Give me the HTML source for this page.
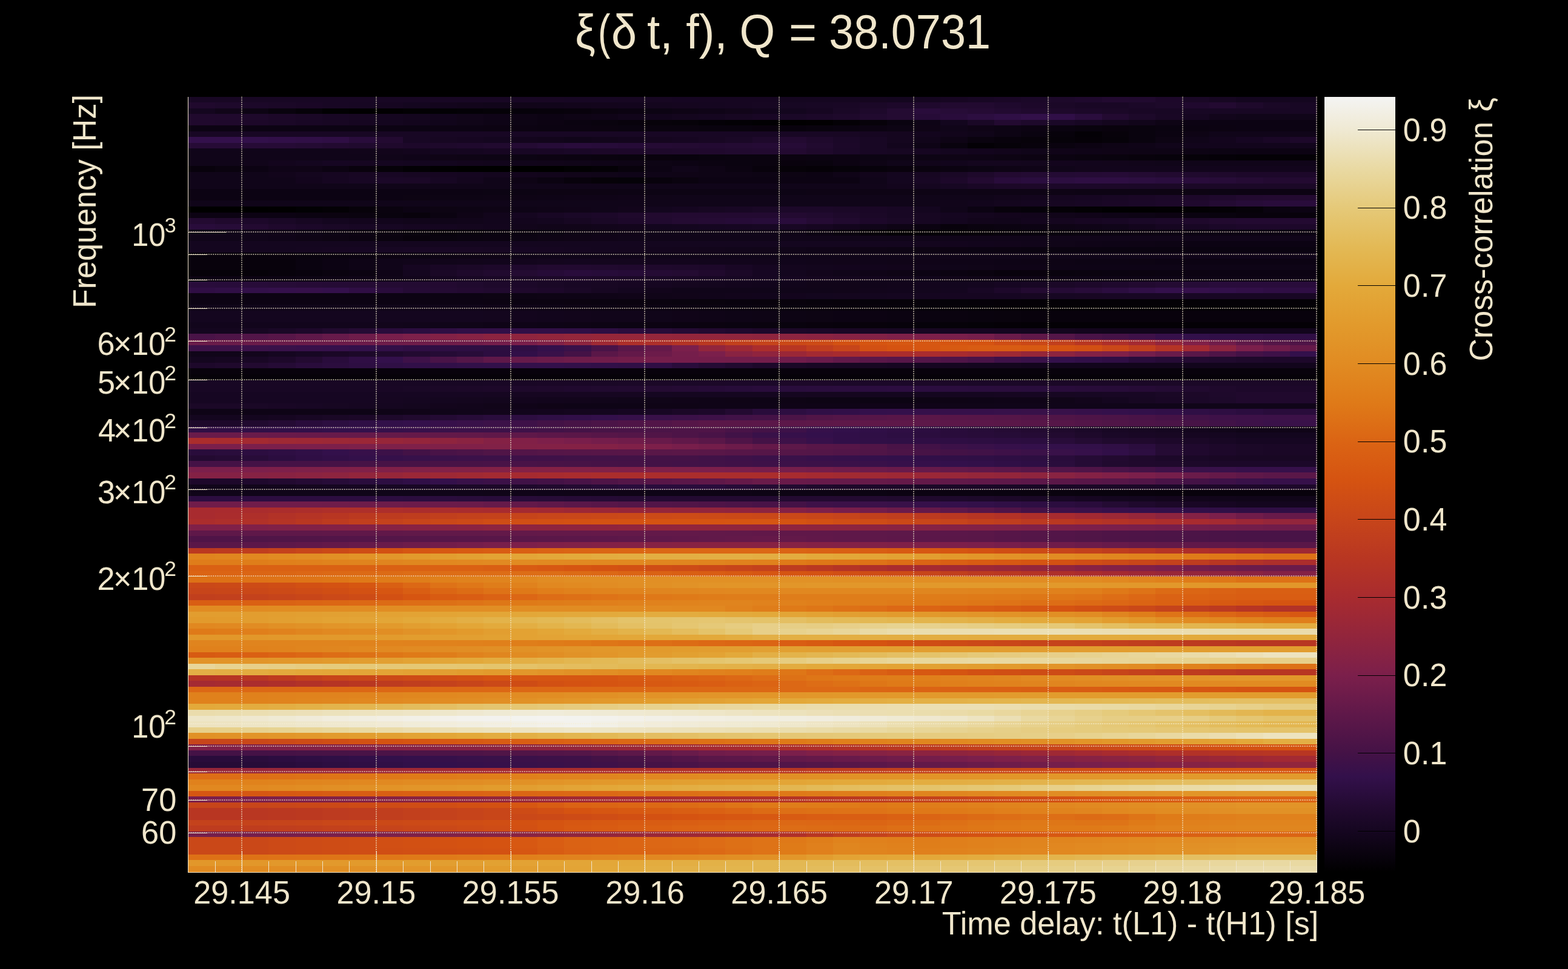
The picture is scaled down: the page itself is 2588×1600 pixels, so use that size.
<!DOCTYPE html>
<html><head><meta charset="utf-8"><title>xi</title>
<style>
html,body{margin:0;padding:0;background:#000}
body{width:2588px;height:1600px;position:relative;overflow:hidden;font-family:"Liberation Sans",sans-serif}
#hm{position:absolute;left:310px;top:160px;width:1864px;height:1280px}
#hm i{display:block;width:100%}
#cb{position:absolute;left:2186px;top:160px;width:117px;height:1280px}
svg{position:absolute;left:0;top:0;will-change:transform}
text{font-family:"Liberation Sans",sans-serif;fill:#f0e6cb}
.s{font-family:"Liberation Serif",serif}
</style></head><body>
<div id="hm"><i style="height:9px;background:linear-gradient(90deg,#180724 0 577px,#180723 0 621px,#170723 0 710px,#170722 0 799px,#160622 0 843px,#160621 0 976px,#150620 0 1109px,#15061f 0 1154px,#14061f 0 1198px,#150620 0 1242px,#170622 0 1287px,#180724 0 1331px,#1a0726 0 1375px,#1b0828 0 1420px,#1d092a 0 1464px,#1f092d 0 1509px,#220a30 0 1553px,#210a2f 0 1597px,#1d082a 0 1642px,#1a0826 0 1686px,#170722 0 1730px,#14061f 0 1864px)"></i><i style="height:10px;background:linear-gradient(90deg,#20092d 0 45px,#1e092b 0 89px,#1c0829 0 133px,#1b0827 0 178px,#1a0726 0 222px,#180724 0 266px,#170723 0 311px,#160621 0 355px,#14061f 0 400px,#13051d 0 444px,#12051b 0 488px,#11051a 0 533px,#110519 0 577px,#11051a 0 621px,#12051b 0 666px,#13051c 0 710px,#13051d 0 754px,#14061e 0 799px,#15061f 0 843px,#150620 0 887px,#160621 0 932px,#170722 0 976px,#170723 0 1021px,#180724 0 1065px,#190725 0 1109px,#1b0827 0 1154px,#1d082a 0 1198px,#1f092d 0 1242px,#220a30 0 1331px,#1f092d 0 1375px,#1d082a 0 1420px,#1b0827 0 1464px,#190725 0 1553px,#1b0828 0 1597px,#1d092a 0 1642px,#20092e 0 1686px,#230a31 0 1730px,#1e092b 0 1775px,#1a0826 0 1819px,#180724 0 1864px)"></i><i style="height:9px;background:linear-gradient(90deg,#14061f 0 45px,#110519 0 89px,#0d0414 0 133px,#09030e 0 178px,#060209 0 222px,#020103 0 266px,#010001 0 311px,#020002 0 355px,#030104 0 400px,#030105 0 444px,#040107 0 488px,#050208 0 533px,#06020a 0 577px,#07020b 0 621px,#08020c 0 666px,#0a030f 0 710px,#0b0311 0 754px,#0c0413 0 799px,#0e0415 0 843px,#0f0417 0 887px,#110519 0 932px,#12051c 0 976px,#13061e 0 1021px,#160621 0 1065px,#1a0826 0 1109px,#1e092b 0 1154px,#240b32 0 1198px,#290c3b 0 1242px,#270c37 0 1287px,#250b34 0 1331px,#220a31 0 1375px,#20092e 0 1420px,#1e092b 0 1464px,#1c0829 0 1509px,#1b0827 0 1553px,#190725 0 1597px,#180724 0 1864px)"></i><i style="height:10px;background:linear-gradient(90deg,#20092d 0 89px,#1e092b 0 133px,#1c0828 0 178px,#1a0826 0 222px,#180724 0 266px,#170722 0 311px,#150620 0 355px,#14061e 0 400px,#12051c 0 444px,#110519 0 488px,#0f0417 0 533px,#0e0415 0 577px,#0c0313 0 621px,#0e0415 0 666px,#0f0417 0 710px,#11051a 0 754px,#12051c 0 799px,#14061e 0 843px,#150620 0 887px,#170722 0 932px,#190725 0 976px,#1a0827 0 1021px,#1c0829 0 1065px,#1e092b 0 1109px,#210a2f 0 1154px,#240b32 0 1198px,#260b37 0 1242px,#290c3b 0 1287px,#2c0e40 0 1331px,#2f0f45 0 1375px,#321049 0 1420px,#300f47 0 1464px,#2a0d3d 0 1509px,#230a31 0 1553px,#1d092a 0 1597px,#190725 0 1642px,#160621 0 1686px,#12051b 0 1730px,#100519 0 1864px)"></i><i style="height:9px;background:linear-gradient(90deg,#20092d 0 45px,#1f092c 0 89px,#1d0829 0 133px,#1b0827 0 178px,#190725 0 222px,#180723 0 266px,#160621 0 311px,#14061f 0 355px,#13051d 0 400px,#11051b 0 444px,#100518 0 488px,#0e0416 0 533px,#0d0414 0 577px,#0c0312 0 621px,#0a0310 0 666px,#09030e 0 710px,#08020c 0 754px,#07020a 0 799px,#060209 0 843px,#040107 0 887px,#030105 0 932px,#020103 0 976px,#010001 0 1021px,#020002 0 1065px,#040106 0 1109px,#07020a 0 1154px,#0a0310 0 1198px,#0e0416 0 1242px,#13061e 0 1287px,#1a0826 0 1331px,#230a31 0 1375px,#1e092b 0 1420px,#1a0827 0 1464px,#170723 0 1509px,#14061e 0 1553px,#11051a 0 1597px,#0e0415 0 1642px,#0c0313 0 1864px)"></i><i style="height:10px;background:linear-gradient(90deg,#0c0313 0 488px,#0c0312 0 577px,#0b0311 0 666px,#0b0310 0 710px,#0a0310 0 754px,#0a030f 0 843px,#09030e 0 932px,#09020d 0 976px,#08020d 0 1021px,#09030e 0 1065px,#0a0310 0 1109px,#0c0312 0 1154px,#0d0414 0 1198px,#0f0416 0 1242px,#100519 0 1287px,#0f0416 0 1331px,#0d0414 0 1375px,#0c0312 0 1420px,#0a0310 0 1464px,#09030e 0 1509px,#09020d 0 1553px,#09030e 0 1597px,#0a0310 0 1642px,#0b0311 0 1686px,#0c0312 0 1730px,#0c0313 0 1864px)"></i><i style="height:9px;background:linear-gradient(90deg,#180724 0 1065px,#180723 0 1109px,#160621 0 1154px,#15061f 0 1198px,#13051d 0 1242px,#12051b 0 1287px,#100519 0 1331px,#0d0414 0 1375px,#0a0310 0 1420px,#07020b 0 1464px,#040106 0 1509px,#07020a 0 1553px,#09030e 0 1597px,#0b0311 0 1642px,#0e0415 0 1686px,#100519 0 1864px)"></i><i style="height:10px;background:linear-gradient(90deg,#33104b 0 89px,#32104a 0 133px,#310f48 0 178px,#300f46 0 222px,#2f0e44 0 266px,#290c3b 0 311px,#230a31 0 355px,#180724 0 400px,#170722 0 444px,#160621 0 488px,#14061f 0 533px,#13051d 0 577px,#12051b 0 621px,#100519 0 666px,#12051b 0 710px,#13051d 0 754px,#15061f 0 799px,#160621 0 843px,#180723 0 887px,#1a0826 0 932px,#1e092b 0 976px,#230a31 0 1021px,#1f092c 0 1065px,#1b0828 0 1109px,#180724 0 1154px,#15061f 0 1198px,#11051a 0 1242px,#0e0415 0 1287px,#0a030f 0 1331px,#08020c 0 1375px,#07020a 0 1420px,#060209 0 1464px,#050107 0 1509px,#060209 0 1553px,#09030e 0 1597px,#0d0413 0 1642px,#100519 0 1686px,#13051d 0 1730px,#160622 0 1775px,#1a0726 0 1819px,#1d082a 0 1864px)"></i><i style="height:9px;background:linear-gradient(90deg,#260b36 0 178px,#240b33 0 222px,#220a30 0 266px,#200a2e 0 311px,#1f092c 0 355px,#1d082a 0 400px,#1e092b 0 444px,#1f092d 0 488px,#210a2f 0 533px,#240b33 0 577px,#260c37 0 621px,#290c3b 0 666px,#270c39 0 710px,#260b37 0 754px,#250b34 0 799px,#240b32 0 843px,#230a32 0 887px,#240b33 0 932px,#250b35 0 976px,#260b36 0 1021px,#210a2f 0 1065px,#1c0829 0 1109px,#180724 0 1154px,#13051d 0 1198px,#0e0416 0 1242px,#09030e 0 1287px,#040106 0 1331px,#060209 0 1375px,#08020c 0 1420px,#0a030f 0 1464px,#0c0312 0 1509px,#0e0415 0 1553px,#0f0417 0 1597px,#11051a 0 1642px,#12051c 0 1864px)"></i><i style="height:10px;background:linear-gradient(90deg,#100519 0 266px,#11051a 0 311px,#12051b 0 355px,#13051d 0 400px,#14061f 0 444px,#150620 0 488px,#170622 0 533px,#180724 0 577px,#190725 0 621px,#1a0827 0 666px,#1c0828 0 710px,#1d082a 0 754px,#1e092b 0 799px,#1f092c 0 843px,#20092d 0 887px,#210a2f 0 932px,#220a30 0 976px,#230a31 0 1021px,#1f092c 0 1065px,#1b0828 0 1109px,#180724 0 1154px,#170722 0 1198px,#160621 0 1242px,#14061f 0 1287px,#13051d 0 1331px,#12051b 0 1375px,#100519 0 1420px,#100418 0 1464px,#0f0417 0 1509px,#0f0416 0 1553px,#0e0415 0 1642px,#0d0414 0 1686px,#0c0413 0 1730px,#0c0313 0 1864px)"></i><i style="height:10px;background:linear-gradient(90deg,#100519 0 355px,#0f0418 0 400px,#0f0416 0 444px,#0e0415 0 488px,#0d0414 0 533px,#0c0413 0 577px,#0c0312 0 621px,#0b0311 0 666px,#0a030f 0 710px,#09030e 0 754px,#09020d 0 799px,#08020d 0 843px,#09030e 0 887px,#0a030f 0 976px,#0b0310 0 1021px,#0b0311 0 1065px,#0c0312 0 1109px,#0c0413 0 1154px,#0d0414 0 1242px,#0e0415 0 1331px,#0d0413 0 1375px,#0c0312 0 1420px,#0b0311 0 1464px,#0a030f 0 1509px,#09030e 0 1553px,#08020c 0 1597px,#07020b 0 1642px,#060209 0 1686px,#050108 0 1730px,#040106 0 1864px)"></i><i style="height:9px;background:linear-gradient(90deg,#100519 0 89px,#11051a 0 133px,#13051d 0 178px,#14061f 0 222px,#160622 0 266px,#160621 0 311px,#150620 0 355px,#14061f 0 400px,#13061e 0 444px,#13051c 0 488px,#12051b 0 533px,#11051a 0 577px,#110519 0 621px,#100518 0 666px,#0f0417 0 710px,#0e0415 0 754px,#0d0414 0 799px,#0c0313 0 843px,#0b0311 0 887px,#0a0310 0 932px,#0a030f 0 976px,#09020d 0 1021px,#09030e 0 1065px,#0c0312 0 1109px,#0e0415 0 1154px,#100519 0 1198px,#11051a 0 1242px,#12051c 0 1287px,#14061e 0 1375px,#13061d 0 1420px,#13051d 0 1464px,#12051c 0 1509px,#12051b 0 1553px,#11051a 0 1597px,#100519 0 1864px)"></i><i style="height:10px;background:linear-gradient(90deg,#08020c 0 45px,#0a030f 0 89px,#0c0313 0 133px,#0f0417 0 178px,#0f0416 0 222px,#0c0312 0 266px,#09020d 0 311px,#060209 0 355px,#030105 0 400px,#010002 0 444px,#000000 0 621px,#020103 0 666px,#040106 0 710px,#08020c 0 754px,#0c0313 0 799px,#100519 0 843px,#0e0415 0 887px,#0b0311 0 932px,#08020c 0 976px,#060208 0 1021px,#050107 0 1065px,#060209 0 1109px,#07020b 0 1154px,#09020d 0 1198px,#0a030f 0 1242px,#0b0311 0 1287px,#0c0413 0 1331px,#0e0415 0 1375px,#0f0417 0 1420px,#100519 0 1464px,#12051b 0 1509px,#12051c 0 1864px)"></i><i style="height:9px;background:linear-gradient(90deg,#100519 0 133px,#12051b 0 178px,#14061e 0 222px,#160621 0 266px,#180723 0 311px,#180724 0 355px,#170722 0 400px,#160621 0 444px,#150620 0 488px,#14061e 0 533px,#13051c 0 577px,#12051b 0 621px,#110519 0 666px,#100518 0 710px,#0f0418 0 754px,#0f0417 0 799px,#0f0416 0 843px,#0e0415 0 932px,#0d0414 0 976px,#0d0413 0 1021px,#0c0313 0 1065px,#0f0417 0 1109px,#12051b 0 1154px,#14061f 0 1198px,#170722 0 1242px,#1a0826 0 1287px,#1e092b 0 1331px,#230a31 0 1375px,#240b33 0 1420px,#240b34 0 1464px,#250b35 0 1509px,#260b36 0 1553px,#240b33 0 1597px,#220a30 0 1642px,#200a2e 0 1686px,#1f092c 0 1730px,#1d082a 0 1864px)"></i><i style="height:10px;background:linear-gradient(90deg,#100519 0 178px,#13051d 0 222px,#160621 0 266px,#180724 0 311px,#1b0828 0 355px,#1b0827 0 400px,#170723 0 444px,#14061e 0 488px,#100519 0 533px,#0e0415 0 577px,#0b0311 0 621px,#08020c 0 666px,#060208 0 710px,#050208 0 754px,#08020c 0 799px,#0a030f 0 843px,#0c0313 0 1109px,#100519 0 1154px,#14061f 0 1198px,#180724 0 1242px,#1d082a 0 1287px,#230a31 0 1331px,#290c3b 0 1375px,#2a0d3e 0 1420px,#2c0e40 0 1464px,#2e0e43 0 1553px,#2c0e40 0 1597px,#2a0d3e 0 1642px,#290c3b 0 1686px,#270c38 0 1730px,#250b34 0 1775px,#230a31 0 1864px)"></i><i style="height:9px;background:linear-gradient(90deg,#100519 0 1109px,#11051a 0 1154px,#13051d 0 1198px,#150620 0 1242px,#170723 0 1287px,#1a0726 0 1331px,#1c0828 0 1375px,#1d0829 0 1420px,#1c0829 0 1509px,#1c0828 0 1553px,#1b0828 0 1597px,#1b0827 0 1864px)"></i><i style="height:10px;background:linear-gradient(90deg,#0c0313 0 488px,#0c0413 0 577px,#0d0413 0 710px,#0d0414 0 976px,#0d0415 0 1021px,#0e0415 0 1242px,#0e0416 0 1287px,#0e0415 0 1464px,#0d0414 0 1597px,#0d0413 0 1686px,#0c0413 0 1730px,#0c0313 0 1864px)"></i><i style="height:9px;background:linear-gradient(90deg,#0c0313 0 355px,#0d0413 0 400px,#0d0414 0 488px,#0e0415 0 577px,#0e0416 0 621px,#0f0417 0 710px,#100418 0 754px,#100518 0 799px,#100519 0 1331px,#12051b 0 1375px,#13051d 0 1420px,#150620 0 1464px,#160622 0 1509px,#180724 0 1553px,#1a0726 0 1597px,#1b0828 0 1642px,#1d082a 0 1686px,#1f092d 0 1730px,#220a30 0 1775px,#230a31 0 1864px)"></i><i style="height:10px;background:linear-gradient(90deg,#100519 0 1242px,#11051a 0 1287px,#12051c 0 1331px,#14061e 0 1375px,#150620 0 1420px,#170722 0 1464px,#180724 0 1509px,#1a0726 0 1553px,#1b0828 0 1597px,#1d082a 0 1642px,#20092e 0 1686px,#240b33 0 1730px,#270c38 0 1775px,#290c3b 0 1864px)"></i><i style="height:10px;background:linear-gradient(90deg,#000000 0 133px,#010001 0 178px,#020104 0 222px,#040106 0 266px,#07020a 0 311px,#0a030f 0 355px,#0c0313 0 400px,#0d0413 0 444px,#0d0414 0 488px,#0e0415 0 533px,#0e0416 0 577px,#0f0417 0 621px,#100418 0 666px,#100519 0 710px,#12051b 0 754px,#13061e 0 799px,#150620 0 843px,#170722 0 887px,#180724 0 932px,#1a0826 0 976px,#1c0829 0 1065px,#1b0827 0 1109px,#1a0726 0 1154px,#180724 0 1198px,#14061f 0 1242px,#100519 0 1287px,#0c0313 0 1331px,#08020c 0 1375px,#06020a 0 1420px,#050107 0 1464px,#030104 0 1509px,#010002 0 1553px,#010001 0 1597px,#020003 0 1642px,#030104 0 1686px,#040106 0 1730px,#060209 0 1775px,#0a0310 0 1819px,#0c0313 0 1864px)"></i><i style="height:9px;background:linear-gradient(90deg,#0c0313 0 178px,#0b0311 0 222px,#0b0310 0 266px,#0a030f 0 311px,#09030e 0 355px,#08020c 0 400px,#0b0311 0 444px,#0f0416 0 488px,#12051b 0 533px,#150620 0 577px,#180724 0 621px,#1a0827 0 666px,#1c0829 0 710px,#1f092c 0 754px,#220a2f 0 799px,#230a31 0 1021px,#210a2f 0 1065px,#1e092b 0 1109px,#1b0827 0 1154px,#180724 0 1198px,#170722 0 1242px,#150620 0 1287px,#14061e 0 1331px,#13051c 0 1375px,#12051b 0 1420px,#110519 0 1464px,#100418 0 1509px,#0e0416 0 1553px,#0d0414 0 1597px,#0c0312 0 1642px,#0a0310 0 1686px,#09030e 0 1730px,#08020c 0 1864px)"></i><i style="height:10px;background:linear-gradient(90deg,#230a31 0 45px,#20092d 0 89px,#1d082a 0 133px,#1a0826 0 178px,#170722 0 222px,#14061f 0 266px,#13051d 0 311px,#12051c 0 355px,#11051a 0 400px,#100519 0 444px,#11051a 0 488px,#12051c 0 533px,#13051d 0 577px,#14061f 0 621px,#170722 0 666px,#1a0826 0 710px,#1d082a 0 754px,#210a2f 0 799px,#240b32 0 843px,#250b34 0 887px,#260b37 0 932px,#270c39 0 976px,#290c3b 0 1021px,#250b34 0 1065px,#210a2f 0 1109px,#1d082a 0 1154px,#1a0826 0 1198px,#170722 0 1242px,#14061f 0 1287px,#12051b 0 1331px,#11051a 0 1375px,#13051d 0 1420px,#15061f 0 1464px,#170622 0 1509px,#180724 0 1553px,#1a0827 0 1597px,#1c0829 0 1642px,#1f092c 0 1686px,#220a2f 0 1730px,#230a31 0 1864px)"></i><i style="height:9px;background:linear-gradient(90deg,#290c3b 0 45px,#270c38 0 89px,#230a31 0 133px,#1f092c 0 178px,#1c0829 0 222px,#1a0826 0 266px,#180724 0 311px,#170723 0 355px,#160621 0 400px,#150620 0 444px,#14061e 0 488px,#13051d 0 533px,#12051b 0 577px,#110519 0 666px,#12051b 0 710px,#13051c 0 754px,#13061e 0 799px,#14061f 0 843px,#150621 0 887px,#160622 0 932px,#170723 0 976px,#180724 0 1021px,#160621 0 1065px,#13051d 0 1109px,#100519 0 1154px,#0e0415 0 1198px,#0b0311 0 1242px,#08020c 0 1287px,#0a030f 0 1331px,#0b0311 0 1375px,#0c0313 0 1420px,#0e0415 0 1464px,#0f0417 0 1509px,#100519 0 1553px,#13051d 0 1597px,#160621 0 1642px,#180724 0 1686px,#1b0828 0 1730px,#1d082a 0 1864px)"></i><i style="height:10px;background:linear-gradient(90deg,#100519 0 133px,#100418 0 178px,#0e0416 0 222px,#0d0414 0 266px,#0c0312 0 311px,#0b0310 0 355px,#09030e 0 400px,#08020c 0 444px,#09030e 0 488px,#0a0310 0 533px,#0b0311 0 577px,#0c0413 0 621px,#0e0415 0 666px,#0f0416 0 710px,#100418 0 754px,#100519 0 976px,#0f0417 0 1021px,#0c0313 0 1065px,#0a030f 0 1109px,#07020a 0 1154px,#040106 0 1198px,#050108 0 1242px,#060209 0 1287px,#07020a 0 1331px,#08020c 0 1375px,#08020d 0 1420px,#09030e 0 1464px,#0a030f 0 1509px,#0b0311 0 1553px,#0c0312 0 1597px,#0c0313 0 1864px)"></i><i style="height:9px;background:linear-gradient(90deg,#100519 0 133px,#0f0418 0 178px,#0e0415 0 222px,#0d0413 0 266px,#0b0311 0 311px,#0a030f 0 355px,#08020c 0 400px,#09030e 0 444px,#0a0310 0 488px,#0b0311 0 533px,#0c0413 0 577px,#0e0415 0 621px,#0f0416 0 666px,#100418 0 710px,#100519 0 1864px)"></i><i style="height:10px;background:linear-gradient(90deg,#14061f 0 1198px,#14061e 0 1242px,#13051d 0 1287px,#12051c 0 1331px,#12051b 0 1375px,#11051a 0 1420px,#100518 0 1464px,#0f0417 0 1509px,#0e0416 0 1553px,#0e0415 0 1597px,#0d0414 0 1642px,#0c0313 0 1864px)"></i><i style="height:9px;background:linear-gradient(90deg,#14061f 0 178px,#150620 0 222px,#160621 0 266px,#160622 0 311px,#170723 0 355px,#180724 0 444px,#180723 0 488px,#170722 0 533px,#160622 0 577px,#160621 0 621px,#150620 0 666px,#14061f 0 710px,#14061e 0 754px,#13051d 0 799px,#13051c 0 843px,#12051b 0 887px,#11051a 0 932px,#110519 0 976px,#100518 0 1021px,#0f0417 0 1065px,#0f0416 0 1109px,#0e0415 0 1154px,#0d0414 0 1198px,#0d0413 0 1242px,#0c0312 0 1287px,#0b0312 0 1331px,#0b0311 0 1375px,#0a0310 0 1864px)"></i><i style="height:10px;background:linear-gradient(90deg,#08020c 0 133px,#09020d 0 178px,#09030e 0 222px,#0a030f 0 266px,#0b0311 0 311px,#0c0312 0 355px,#0c0413 0 400px,#0d0414 0 444px,#0e0415 0 488px,#0f0416 0 533px,#0f0418 0 577px,#100519 0 1864px)"></i><i style="height:10px;background:linear-gradient(90deg,#08020c 0 178px,#0a0310 0 222px,#0c0313 0 266px,#0e0416 0 311px,#100519 0 355px,#11051a 0 444px,#12051b 0 488px,#12051c 0 533px,#13051d 0 577px,#14061e 0 621px,#14061f 0 666px,#14061e 0 754px,#13051d 0 843px,#12051c 0 932px,#12051b 0 976px,#11051b 0 1021px,#11051a 0 1065px,#110519 0 1109px,#100519 0 1154px,#100518 0 1198px,#100418 0 1242px,#0f0417 0 1331px,#0e0416 0 1375px,#0e0415 0 1464px,#0d0414 0 1553px,#0d0413 0 1597px,#0c0313 0 1864px)"></i><i style="height:9px;background:linear-gradient(90deg,#08020c 0 178px,#0a0310 0 222px,#0c0313 0 266px,#0e0416 0 311px,#100519 0 355px,#160621 0 400px,#190725 0 444px,#1b0827 0 488px,#1d082a 0 533px,#1f092d 0 577px,#220a30 0 666px,#210a2f 0 710px,#20092e 0 754px,#1f092c 0 799px,#1e092b 0 843px,#1d082a 0 887px,#190725 0 932px,#160621 0 976px,#14061e 0 1021px,#13061d 0 1065px,#13051d 0 1109px,#12051c 0 1154px,#12051b 0 1198px,#11051a 0 1242px,#100519 0 1287px,#100518 0 1331px,#0f0417 0 1420px,#0e0416 0 1864px)"></i><i style="height:10px;background:linear-gradient(90deg,#060209 0 133px,#07020b 0 178px,#08020d 0 222px,#0a030f 0 266px,#0b0311 0 311px,#0f0417 0 355px,#14061f 0 400px,#1a0826 0 444px,#1e092b 0 488px,#210a2f 0 533px,#240b32 0 577px,#260b37 0 621px,#290c3b 0 666px,#270c39 0 710px,#260b37 0 754px,#250b34 0 799px,#240b32 0 843px,#20092d 0 887px,#1b0827 0 932px,#160622 0 976px,#13061e 0 1021px,#12051b 0 1065px,#100519 0 1109px,#0f0417 0 1154px,#0e0415 0 1198px,#0c0313 0 1242px,#0b0311 0 1287px,#0a030f 0 1331px,#08020c 0 1375px,#09020d 0 1420px,#09030e 0 1464px,#0a030f 0 1509px,#0a0310 0 1553px,#0b0310 0 1597px,#0b0311 0 1642px,#0c0312 0 1686px,#0c0313 0 1864px)"></i><i style="height:9px;background:linear-gradient(90deg,#0c0313 0 178px,#0d0414 0 222px,#0e0415 0 266px,#0f0417 0 311px,#100518 0 355px,#12051b 0 400px,#150620 0 444px,#180724 0 488px,#1a0726 0 533px,#1b0827 0 577px,#1c0828 0 621px,#1d082a 0 666px,#1c0828 0 710px,#1b0827 0 754px,#1a0826 0 799px,#190725 0 843px,#180724 0 887px,#170723 0 932px,#160622 0 976px,#150621 0 1021px,#15061f 0 1065px,#14061e 0 1109px,#13051d 0 1154px,#12051c 0 1198px,#11051b 0 1242px,#110519 0 1287px,#100518 0 1331px,#0f0417 0 1375px,#0e0416 0 1864px)"></i><i style="height:10px;background:linear-gradient(90deg,#290c3b 0 45px,#280c3a 0 89px,#280c39 0 133px,#270c37 0 178px,#260b36 0 222px,#250b35 0 266px,#250b34 0 311px,#240b33 0 355px,#230b32 0 400px,#230a31 0 444px,#200a2e 0 488px,#1e092b 0 533px,#1c0829 0 577px,#1a0826 0 621px,#180724 0 666px,#180723 0 710px,#170622 0 754px,#160621 0 799px,#15061f 0 843px,#14061e 0 887px,#13051d 0 932px,#12051c 0 976px,#11051b 0 1021px,#110519 0 1109px,#11051a 0 1154px,#12051b 0 1198px,#13051d 0 1242px,#13061e 0 1287px,#14061f 0 1331px,#160622 0 1375px,#180724 0 1420px,#1b0827 0 1464px,#1d082a 0 1509px,#1f092d 0 1553px,#220a30 0 1597px,#240b33 0 1642px,#260c37 0 1686px,#290c3b 0 1864px)"></i><i style="height:9px;background:linear-gradient(90deg,#2f0e44 0 45px,#300f46 0 89px,#321049 0 133px,#34104b 0 178px,#35104a 0 222px,#33104b 0 266px,#2f0e44 0 311px,#290c3b 0 355px,#250b35 0 400px,#240b33 0 444px,#230a31 0 488px,#210a2f 0 533px,#1f092c 0 577px,#1d082a 0 621px,#1a0826 0 666px,#170722 0 710px,#14061f 0 754px,#12051b 0 799px,#100519 0 1065px,#110519 0 1109px,#12051b 0 1154px,#12051c 0 1198px,#13061d 0 1242px,#14061f 0 1287px,#180724 0 1331px,#1d082a 0 1375px,#230a31 0 1420px,#250b35 0 1464px,#280c39 0 1509px,#2b0d3f 0 1553px,#300f46 0 1597px,#33104b 0 1642px,#35104b 0 1686px,#32104a 0 1730px,#310f47 0 1775px,#2f0e44 0 1864px)"></i><i style="height:10px;background:linear-gradient(90deg,#0c0313 0 488px,#0d0413 0 533px,#0d0414 0 577px,#0e0415 0 621px,#0e0416 0 666px,#0f0417 0 710px,#100418 0 754px,#100518 0 799px,#110519 0 843px,#11051a 0 887px,#12051b 0 932px,#12051c 0 976px,#13051d 0 1021px,#13061e 0 1065px,#14061e 0 1109px,#14061f 0 1154px,#150620 0 1242px,#160621 0 1331px,#160622 0 1375px,#170722 0 1420px,#170723 0 1464px,#180723 0 1509px,#180724 0 1864px)"></i><i style="height:9px;background:linear-gradient(90deg,#0c0313 0 488px,#0c0312 0 533px,#0b0311 0 621px,#0b0310 0 666px,#0a0310 0 710px,#0a030f 0 799px,#09030e 0 843px,#09030d 0 887px,#08020d 0 932px,#08020c 0 1021px,#07020b 0 1065px,#07020a 0 1109px,#06020a 0 1154px,#060209 0 1242px,#050208 0 1287px,#050108 0 1331px,#050107 0 1375px,#040106 0 1864px)"></i><i style="height:10px;background:linear-gradient(90deg,#100519 0 488px,#100418 0 533px,#0f0417 0 577px,#0e0416 0 621px,#0e0415 0 666px,#0d0414 0 710px,#0d0413 0 754px,#0c0313 0 799px,#0c0312 0 843px,#0b0311 0 887px,#0a0310 0 932px,#0a030f 0 976px,#09030e 0 1021px,#09030d 0 1065px,#08020c 0 1154px,#07020b 0 1198px,#06020a 0 1242px,#060209 0 1287px,#050208 0 1331px,#050107 0 1375px,#040106 0 1864px)"></i><i style="height:9px;background:linear-gradient(90deg,#14061f 0 488px,#14061e 0 533px,#13051d 0 577px,#12051c 0 621px,#12051b 0 666px,#11051a 0 754px,#100519 0 799px,#100418 0 843px,#0f0417 0 887px,#0e0416 0 932px,#0e0415 0 976px,#0d0414 0 1021px,#0d0413 0 1065px,#0c0313 0 1109px,#0c0312 0 1154px,#0b0311 0 1198px,#0a0310 0 1242px,#0a030f 0 1287px,#09030e 0 1331px,#09030d 0 1375px,#08020c 0 1864px)"></i><i style="height:10px;background:linear-gradient(90deg,#14061f 0 488px,#14061e 0 533px,#13051d 0 577px,#12051c 0 621px,#12051b 0 666px,#11051a 0 754px,#100519 0 799px,#100418 0 843px,#0f0417 0 887px,#0e0416 0 932px,#0e0415 0 976px,#0d0414 0 1021px,#0d0413 0 1065px,#0c0313 0 1109px,#0c0312 0 1154px,#0b0311 0 1198px,#0a0310 0 1242px,#0a030f 0 1287px,#09030e 0 1331px,#09030d 0 1375px,#08020c 0 1864px)"></i><i style="height:10px;background:linear-gradient(90deg,#12051c 0 311px,#12051b 0 355px,#11051a 0 400px,#100519 0 444px,#100518 0 488px,#0f0417 0 577px,#0e0416 0 621px,#0e0415 0 666px,#0d0414 0 710px,#0c0413 0 754px,#0c0312 0 799px,#0b0311 0 843px,#0b0310 0 887px,#0a0310 0 932px,#0a030f 0 976px,#09030e 0 1021px,#09020d 0 1065px,#08020c 0 1109px,#08020b 0 1154px,#07020b 0 1198px,#06020a 0 1242px,#060209 0 1287px,#050208 0 1331px,#050107 0 1375px,#040106 0 1864px)"></i><i style="height:9px;background:linear-gradient(90deg,#14061f 0 89px,#170722 0 133px,#1a0826 0 178px,#1d082a 0 222px,#210a2f 0 266px,#250b34 0 311px,#290c3b 0 355px,#2b0d3f 0 400px,#2e0e43 0 444px,#300f46 0 488px,#310f47 0 533px,#300f46 0 621px,#2f0f45 0 666px,#2d0e42 0 710px,#2a0d3d 0 754px,#270c38 0 799px,#240b34 0 843px,#220a30 0 887px,#1f092d 0 932px,#1d082a 0 976px,#1c0828 0 1021px,#1a0827 0 1065px,#190725 0 1109px,#180724 0 1154px,#170723 0 1198px,#170722 0 1242px,#160621 0 1331px,#150620 0 1375px,#14061f 0 1420px,#14061e 0 1464px,#13051d 0 1509px,#12051c 0 1864px)"></i><i style="height:10px;background:linear-gradient(90deg,#491347 0 45px,#4d1447 0 89px,#521548 0 133px,#571648 0 178px,#5e1849 0 222px,#661a4a 0 266px,#6e1c4a 0 311px,#771e4b 0 355px,#7d204a 0 400px,#822146 0 444px,#862244 0 488px,#8b2340 0 533px,#8f243e 0 577px,#91253c 0 621px,#94263b 0 666px,#962639 0 710px,#95263a 0 754px,#94263b 0 799px,#93253b 0 843px,#92253c 0 887px,#90253d 0 932px,#8e243e 0 976px,#8c2440 0 1021px,#8a2341 0 1065px,#862244 0 1109px,#822146 0 1154px,#7e2049 0 1198px,#7c1f4a 0 1242px,#791f4b 0 1287px,#751e4b 0 1331px,#6a1b4a 0 1375px,#5f1849 0 1420px,#541648 0 1464px,#491347 0 1509px,#441246 0 1553px,#3e1148 0 1597px,#36104a 0 1642px,#32104a 0 1686px,#300f47 0 1730px,#300f46 0 1775px,#2f0e44 0 1864px)"></i><i style="height:9px;background:linear-gradient(90deg,#6a1b4a 0 222px,#6b1b4a 0 266px,#6c1b4a 0 311px,#6d1c4a 0 355px,#6e1c4a 0 400px,#6f1c4a 0 444px,#701c4a 0 488px,#741d4b 0 533px,#791e4b 0 577px,#812147 0 621px,#8d243f 0 666px,#9f2934 0 710px,#ae2f2a 0 799px,#b43325 0 843px,#ba3821 0 887px,#c2401c 0 932px,#c6441b 0 976px,#cb4917 0 1021px,#cd4b16 0 1065px,#d35112 0 1109px,#d65511 0 1154px,#d75812 0 1198px,#d65712 0 1242px,#d65511 0 1287px,#d55311 0 1331px,#cf4d15 0 1375px,#ca4818 0 1420px,#c13f1d 0 1464px,#b83622 0 1509px,#ae2f2a 0 1553px,#a42a32 0 1597px,#92253c 0 1642px,#802048 0 1686px,#701c4a 0 1730px,#5f1849 0 1775px,#541648 0 1819px,#4f1447 0 1864px)"></i><i style="height:10px;background:linear-gradient(90deg,#3c1148 0 89px,#3a1149 0 133px,#381149 0 178px,#37104a 0 222px,#35104b 0 266px,#32104a 0 311px,#310f47 0 355px,#2f0e44 0 400px,#2e0e43 0 444px,#2d0e42 0 488px,#2c0e40 0 533px,#2f0e44 0 577px,#33104b 0 621px,#391149 0 666px,#491347 0 710px,#5a1748 0 754px,#651949 0 799px,#7b1f4b 0 843px,#92253c 0 887px,#9d2835 0 932px,#ab2d2c 0 976px,#b83622 0 1021px,#c03e1e 0 1065px,#c7451a 0 1109px,#d25013 0 1154px,#d55311 0 1198px,#d65612 0 1242px,#d75a12 0 1287px,#d85c13 0 1375px,#d75a12 0 1420px,#d55311 0 1464px,#d25013 0 1509px,#ca4818 0 1553px,#c13f1d 0 1597px,#b53425 0 1642px,#a42a32 0 1686px,#8d243f 0 1730px,#7b1f4b 0 1775px,#701c4a 0 1819px,#651949 0 1864px)"></i><i style="height:9px;background:linear-gradient(90deg,#100519 0 89px,#12051c 0 133px,#150620 0 178px,#170723 0 222px,#1a0726 0 266px,#1c0829 0 311px,#1f092d 0 355px,#230a31 0 400px,#250b35 0 444px,#280c39 0 488px,#2c0d40 0 533px,#310f48 0 577px,#391149 0 621px,#441246 0 666px,#5a1748 0 710px,#631949 0 754px,#6c1b4a 0 799px,#751e4b 0 843px,#7b1f4b 0 887px,#892342 0 932px,#90243e 0 976px,#9b2737 0 1021px,#a42a32 0 1065px,#a82b2f 0 1109px,#aa2c2e 0 1154px,#ab2d2c 0 1198px,#aa2c2e 0 1242px,#a82b2f 0 1287px,#a42a32 0 1331px,#9f2934 0 1375px,#962639 0 1420px,#8d243f 0 1464px,#842145 0 1509px,#802048 0 1553px,#751e4b 0 1597px,#6a1b4a 0 1642px,#5a1748 0 1686px,#4f1447 0 1730px,#441246 0 1775px,#3e1148 0 1819px,#33104b 0 1864px)"></i><i style="height:10px;background:linear-gradient(90deg,#14061f 0 45px,#160621 0 89px,#190725 0 133px,#1d082a 0 178px,#230a31 0 222px,#290c3b 0 266px,#2f0e44 0 311px,#33104b 0 355px,#3e1148 0 400px,#491347 0 444px,#541648 0 488px,#5f1849 0 533px,#661a4a 0 577px,#6b1b4a 0 621px,#6e1c4a 0 666px,#701c4a 0 710px,#731d4a 0 754px,#751e4b 0 799px,#751d4b 0 843px,#741d4a 0 887px,#731d4a 0 976px,#701c4a 0 1021px,#6a1b4a 0 1065px,#621949 0 1109px,#5a1748 0 1154px,#571648 0 1198px,#541648 0 1242px,#4f1447 0 1287px,#491347 0 1331px,#3e1148 0 1375px,#391149 0 1420px,#33104b 0 1464px,#310f48 0 1509px,#2f0e44 0 1553px,#290c3b 0 1597px,#260b36 0 1642px,#230a31 0 1686px,#200a2e 0 1730px,#1e092b 0 1775px,#1d082a 0 1864px)"></i><i style="height:9px;background:linear-gradient(90deg,#1d082a 0 45px,#1f092c 0 89px,#220a30 0 133px,#250b35 0 178px,#290c3b 0 222px,#2b0d3e 0 266px,#2d0e42 0 311px,#2f0f45 0 355px,#310f48 0 444px,#321049 0 488px,#32104a 0 533px,#33104a 0 577px,#33104b 0 621px,#321049 0 666px,#310f48 0 710px,#300f46 0 754px,#2f0e44 0 799px,#290c3b 0 843px,#250b34 0 887px,#210a2f 0 932px,#1d082a 0 976px,#1a0826 0 1021px,#180724 0 1065px,#170723 0 1109px,#170722 0 1154px,#160621 0 1242px,#150620 0 1287px,#14061f 0 1331px,#14061e 0 1375px,#13051d 0 1420px,#12051c 0 1864px)"></i><i style="height:10px;background:linear-gradient(90deg,#08020c 0 1864px)"></i><i style="height:10px;background:linear-gradient(90deg,#060209 0 1864px)"></i><i style="height:9px;background:linear-gradient(90deg,#180724 0 488px,#190725 0 577px,#1a0726 0 666px,#1a0826 0 710px,#1b0827 0 799px,#1b0828 0 843px,#1c0828 0 887px,#1c0829 0 976px,#1d0829 0 1065px,#1c0829 0 1198px,#1c0828 0 1287px,#1b0828 0 1375px,#1b0827 0 1864px)"></i><i style="height:10px;background:linear-gradient(90deg,#180724 0 311px,#190725 0 355px,#1a0826 0 400px,#1b0827 0 444px,#1c0828 0 488px,#1d0829 0 533px,#1e092b 0 577px,#1f092c 0 621px,#20092e 0 666px,#210a2f 0 710px,#220a30 0 754px,#240b32 0 799px,#250b34 0 843px,#260b37 0 887px,#270c39 0 932px,#290c3b 0 976px,#290d3c 0 1021px,#2a0d3d 0 1065px,#2b0d3e 0 1109px,#2b0d3f 0 1154px,#2c0d40 0 1198px,#2b0d3f 0 1242px,#2b0d3e 0 1287px,#2a0d3d 0 1331px,#2a0d3c 0 1375px,#290d3c 0 1420px,#290c3b 0 1464px,#280c39 0 1509px,#270c38 0 1553px,#260b36 0 1597px,#240b33 0 1642px,#210a2f 0 1686px,#1f092c 0 1730px,#1d082a 0 1864px)"></i><i style="height:9px;background:linear-gradient(90deg,#160622 0 488px,#160621 0 754px,#150621 0 799px,#150620 0 1021px,#15061f 0 1109px,#14061f 0 1242px,#150620 0 1331px,#160621 0 1375px,#160622 0 1420px,#170722 0 1464px,#170723 0 1509px,#180724 0 1597px,#1a0826 0 1642px,#1c0828 0 1686px,#1e092b 0 1730px,#20092d 0 1864px)"></i><i style="height:10px;background:linear-gradient(90deg,#160622 0 311px,#160621 0 355px,#150620 0 400px,#14061f 0 444px,#14061e 0 488px,#13061d 0 533px,#13051d 0 577px,#12051c 0 621px,#12051b 0 666px,#11051a 0 710px,#100519 0 754px,#100518 0 799px,#100418 0 843px,#0f0417 0 887px,#0f0416 0 932px,#0e0416 0 976px,#0e0415 0 1021px,#0d0414 0 1109px,#0c0413 0 1198px,#0d0414 0 1242px,#0e0415 0 1287px,#0e0416 0 1331px,#0f0417 0 1420px,#100518 0 1464px,#12051b 0 1509px,#14061f 0 1553px,#170722 0 1597px,#190725 0 1642px,#1b0828 0 1686px,#1d092a 0 1730px,#20092d 0 1864px)"></i><i style="height:9px;background:linear-gradient(90deg,#1b0827 0 89px,#1a0826 0 133px,#190725 0 178px,#180724 0 222px,#170722 0 266px,#160621 0 311px,#150620 0 355px,#14061e 0 400px,#13051c 0 444px,#12051b 0 488px,#110519 0 533px,#100418 0 577px,#0f0416 0 621px,#0e0416 0 754px,#0f0416 0 843px,#0f0417 0 1109px,#100418 0 1242px,#100518 0 1331px,#100519 0 1864px)"></i><i style="height:10px;background:linear-gradient(90deg,#0e0416 0 311px,#0f0417 0 355px,#100418 0 400px,#100519 0 444px,#11051a 0 488px,#12051b 0 533px,#12051c 0 577px,#13051d 0 621px,#14061e 0 666px,#14061f 0 710px,#160622 0 754px,#180724 0 799px,#1b0827 0 843px,#1d082a 0 887px,#230a31 0 932px,#290c3b 0 976px,#2d0e41 0 1021px,#300f46 0 1065px,#310f48 0 1109px,#33104b 0 1154px,#34104b 0 1198px,#35104a 0 1242px,#36104a 0 1331px,#37114a 0 1375px,#381149 0 1420px,#38114a 0 1464px,#36104a 0 1509px,#34104b 0 1553px,#32104a 0 1597px,#310f48 0 1642px,#2f0f45 0 1686px,#2e0e42 0 1730px,#2b0d3f 0 1775px,#290c3b 0 1864px)"></i><i style="height:9px;background:linear-gradient(90deg,#14061f 0 133px,#160621 0 178px,#180724 0 222px,#1a0826 0 266px,#1c0828 0 311px,#1e092b 0 355px,#210a2f 0 400px,#240b34 0 444px,#270c38 0 488px,#2a0d3d 0 533px,#2d0e41 0 577px,#2f0f45 0 621px,#310f48 0 666px,#33104b 0 710px,#36104a 0 754px,#391149 0 799px,#3b1148 0 843px,#3e1148 0 887px,#411247 0 932px,#441246 0 976px,#4b1447 0 1021px,#511547 0 1065px,#541648 0 1109px,#561648 0 1154px,#581648 0 1198px,#5a1748 0 1242px,#581648 0 1287px,#571648 0 1331px,#551648 0 1375px,#531548 0 1420px,#501547 0 1464px,#4e1447 0 1509px,#4c1447 0 1553px,#491347 0 1597px,#451246 0 1642px,#411247 0 1686px,#3e1148 0 1730px,#3d1148 0 1775px,#3c1148 0 1864px)"></i><i style="height:10px;background:linear-gradient(90deg,#1d082a 0 89px,#210a2f 0 133px,#250b34 0 178px,#290c3b 0 222px,#2c0e40 0 266px,#2f0f45 0 311px,#321049 0 355px,#34104b 0 400px,#37104a 0 444px,#391149 0 488px,#3c1148 0 533px,#3e1148 0 577px,#431246 0 621px,#471346 0 666px,#4b1447 0 710px,#4f1447 0 754px,#521548 0 799px,#561648 0 843px,#5a1748 0 932px,#5b1749 0 976px,#5c1749 0 1021px,#5d1849 0 1065px,#5e1849 0 1109px,#5f1849 0 1154px,#5e1849 0 1198px,#5d1849 0 1242px,#5c1749 0 1287px,#5b1749 0 1331px,#5a1748 0 1375px,#581648 0 1420px,#561648 0 1464px,#531548 0 1509px,#501547 0 1553px,#4d1447 0 1597px,#4b1447 0 1642px,#471346 0 1686px,#411247 0 1730px,#3d1148 0 1775px,#3a1149 0 1819px,#391149 0 1864px)"></i><i style="height:10px;background:linear-gradient(90deg,#2f0e44 0 89px,#300f46 0 133px,#300f47 0 178px,#310f48 0 222px,#32104a 0 266px,#33104b 0 311px,#35104a 0 355px,#37104a 0 400px,#391149 0 444px,#3b1149 0 488px,#3c1148 0 533px,#3e1148 0 577px,#411247 0 621px,#441246 0 666px,#471346 0 710px,#491347 0 754px,#4b1447 0 799px,#4d1447 0 843px,#4f1447 0 887px,#491347 0 932px,#441246 0 976px,#3d1148 0 1021px,#36104a 0 1065px,#32104a 0 1109px,#300f47 0 1154px,#2f0e44 0 1198px,#2c0d40 0 1242px,#290c3b 0 1287px,#270c38 0 1331px,#250b34 0 1375px,#230a31 0 1420px,#1f092c 0 1464px,#1b0828 0 1509px,#180724 0 1553px,#170722 0 1597px,#150620 0 1642px,#13051d 0 1686px,#11051a 0 1730px,#0f0417 0 1864px)"></i><i style="height:9px;background:linear-gradient(90deg,#6a1b4a 0 89px,#691b4a 0 133px,#691a4a 0 178px,#681a4a 0 222px,#671a4a 0 266px,#661a4a 0 311px,#651a49 0 355px,#651949 0 400px,#631949 0 444px,#621949 0 488px,#601849 0 533px,#5f1849 0 577px,#5c1749 0 621px,#5a1748 0 666px,#571648 0 710px,#541648 0 754px,#511547 0 799px,#4d1447 0 843px,#491347 0 887px,#411247 0 932px,#391149 0 976px,#36104a 0 1021px,#33104b 0 1065px,#310f48 0 1109px,#2f0f45 0 1154px,#2d0e42 0 1198px,#2b0d3e 0 1242px,#290c3b 0 1287px,#280c39 0 1331px,#260c37 0 1375px,#250b35 0 1420px,#220a30 0 1464px,#1e092b 0 1509px,#1a0827 0 1553px,#190725 0 1597px,#180723 0 1642px,#160621 0 1686px,#150620 0 1730px,#13061e 0 1864px)"></i><i style="height:10px;background:linear-gradient(90deg,#ab2d2c 0 45px,#a92c2e 0 89px,#a42a31 0 133px,#9f2934 0 178px,#9e2835 0 222px,#9c2836 0 266px,#9b2737 0 311px,#972639 0 355px,#94253b 0 400px,#8f243e 0 444px,#8a2341 0 488px,#842145 0 533px,#812047 0 577px,#7d1f4a 0 621px,#791e4b 0 666px,#741d4b 0 710px,#701c4a 0 754px,#681a4a 0 799px,#611849 0 843px,#5a1748 0 887px,#4f1447 0 932px,#441246 0 976px,#3d1148 0 1021px,#37104a 0 1065px,#310f48 0 1109px,#300f46 0 1154px,#2f0f45 0 1198px,#2f0e44 0 1242px,#2e0e43 0 1287px,#2d0e41 0 1331px,#2c0d40 0 1375px,#2b0d3f 0 1420px,#280c39 0 1464px,#240b33 0 1509px,#200a2e 0 1553px,#20092d 0 1597px,#1d082a 0 1642px,#1b0827 0 1686px,#180724 0 1730px,#160622 0 1864px)"></i><i style="height:9px;background:linear-gradient(90deg,#7b1f4b 0 178px,#7c1f4b 0 222px,#7c1f4a 0 266px,#7d204a 0 311px,#7e2049 0 355px,#7f2049 0 400px,#7f2048 0 444px,#802048 0 488px,#812147 0 533px,#822146 0 577px,#832146 0 621px,#842145 0 666px,#832146 0 710px,#802048 0 754px,#7d1f4a 0 799px,#781e4b 0 843px,#731d4a 0 887px,#6c1b4a 0 932px,#651949 0 976px,#5d1849 0 1021px,#581648 0 1065px,#561648 0 1109px,#511547 0 1154px,#491347 0 1198px,#421247 0 1242px,#3c1148 0 1287px,#391149 0 1331px,#36104a 0 1375px,#34104b 0 1420px,#33104a 0 1464px,#321049 0 1509px,#300f45 0 1553px,#2b0d3e 0 1597px,#240b33 0 1642px,#20092e 0 1686px,#1d082a 0 1730px,#1b0827 0 1775px,#1a0726 0 1864px)"></i><i style="height:10px;background:linear-gradient(90deg,#290c3b 0 45px,#2a0d3c 0 89px,#2c0d40 0 133px,#2e0e43 0 178px,#300f46 0 222px,#33104b 0 266px,#37104a 0 311px,#3c1148 0 355px,#431246 0 400px,#491347 0 444px,#4c1447 0 488px,#501547 0 533px,#531548 0 577px,#551648 0 621px,#561648 0 666px,#571648 0 710px,#581648 0 754px,#591748 0 799px,#5a1748 0 843px,#591748 0 887px,#571648 0 932px,#561648 0 976px,#551648 0 1021px,#541648 0 1065px,#521548 0 1109px,#501547 0 1154px,#4c1447 0 1198px,#471346 0 1242px,#431246 0 1287px,#411247 0 1331px,#3e1148 0 1375px,#3b1148 0 1420px,#391149 0 1464px,#36104a 0 1509px,#310f48 0 1553px,#2d0e41 0 1597px,#250b34 0 1642px,#20092e 0 1686px,#1d082a 0 1730px,#1b0827 0 1775px,#1a0726 0 1864px)"></i><i style="height:9px;background:linear-gradient(90deg,#230a31 0 45px,#250b34 0 89px,#280c39 0 133px,#2b0d3f 0 178px,#2f0e44 0 222px,#310f47 0 266px,#33104a 0 311px,#35104a 0 355px,#37114a 0 400px,#391149 0 444px,#3b1149 0 488px,#3c1148 0 533px,#3e1148 0 577px,#3f1148 0 621px,#401247 0 666px,#411247 0 710px,#421246 0 754px,#431246 0 843px,#401247 0 887px,#3e1148 0 932px,#3b1149 0 976px,#391149 0 1021px,#37104a 0 1065px,#35104a 0 1109px,#33104b 0 1154px,#32104a 0 1198px,#310f48 0 1242px,#300f46 0 1287px,#2f0f45 0 1331px,#2e0e43 0 1375px,#2d0e41 0 1420px,#290c3b 0 1464px,#250b35 0 1509px,#220a30 0 1553px,#1f092c 0 1597px,#1c0829 0 1642px,#1a0827 0 1686px,#190724 0 1730px,#180723 0 1864px)"></i><i style="height:10px;background:linear-gradient(90deg,#441246 0 133px,#451246 0 222px,#461246 0 266px,#461346 0 311px,#471346 0 400px,#481346 0 488px,#491347 0 577px,#481346 0 621px,#471346 0 666px,#461246 0 710px,#451246 0 754px,#431246 0 799px,#421247 0 843px,#411247 0 887px,#401147 0 932px,#3e1148 0 976px,#3d1148 0 1021px,#3c1148 0 1065px,#3b1149 0 1109px,#391149 0 1154px,#37104a 0 1198px,#35104a 0 1242px,#33104b 0 1287px,#321049 0 1331px,#300f46 0 1375px,#2e0e44 0 1420px,#2a0d3c 0 1464px,#250b35 0 1509px,#210a2f 0 1553px,#20092d 0 1597px,#1f092c 0 1642px,#1d092a 0 1686px,#1c0829 0 1864px)"></i><i style="height:9px;background:linear-gradient(90deg,#7b1f4b 0 89px,#7c1f4b 0 133px,#7d1f4a 0 178px,#7e2049 0 222px,#7f2049 0 266px,#802048 0 355px,#812147 0 400px,#822147 0 444px,#822146 0 488px,#832146 0 533px,#842145 0 621px,#832146 0 666px,#812147 0 710px,#802048 0 754px,#7f2049 0 799px,#7d204a 0 843px,#7c1f4b 0 887px,#7a1f4b 0 932px,#781e4b 0 976px,#761e4b 0 1021px,#741d4a 0 1065px,#701c4a 0 1109px,#6c1b4a 0 1154px,#691a4a 0 1198px,#661a4a 0 1242px,#631949 0 1287px,#601849 0 1331px,#5c1749 0 1375px,#571648 0 1420px,#521548 0 1464px,#4f1447 0 1509px,#491347 0 1553px,#441246 0 1597px,#3e1148 0 1642px,#391149 0 1686px,#38114a 0 1730px,#36104a 0 1864px)"></i><i style="height:10px;background:linear-gradient(90deg,#842145 0 89px,#862244 0 133px,#882242 0 178px,#8b2341 0 222px,#8d243f 0 266px,#92253c 0 311px,#962639 0 355px,#9b2737 0 400px,#9e2835 0 444px,#a12933 0 488px,#a42a32 0 533px,#a62a30 0 577px,#a82b2f 0 621px,#aa2c2e 0 666px,#ab2d2c 0 976px,#a82b2f 0 1021px,#a52a31 0 1065px,#a22a32 0 1109px,#a02934 0 1154px,#9e2835 0 1198px,#9b2737 0 1242px,#982739 0 1287px,#95263a 0 1331px,#93253b 0 1375px,#8f243e 0 1420px,#892342 0 1464px,#842145 0 1509px,#802048 0 1553px,#7b1f4b 0 1597px,#751e4b 0 1642px,#6a1b4a 0 1686px,#651949 0 1730px,#5f1849 0 1775px,#5b1749 0 1819px,#5a1748 0 1864px)"></i><i style="height:10px;background:linear-gradient(90deg,#1d082a 0 89px,#1f092d 0 133px,#220a30 0 178px,#250b34 0 222px,#270c38 0 266px,#2a0d3d 0 311px,#2d0e42 0 355px,#300f47 0 400px,#34104b 0 444px,#391149 0 488px,#3c1148 0 533px,#401247 0 577px,#441246 0 621px,#491347 0 666px,#4f1447 0 710px,#541648 0 754px,#581648 0 799px,#5b1749 0 843px,#5f1849 0 887px,#651949 0 932px,#6a1b4a 0 976px,#691a4a 0 1021px,#671a4a 0 1065px,#661a4a 0 1109px,#661a49 0 1154px,#651949 0 1198px,#631949 0 1242px,#611949 0 1287px,#601849 0 1331px,#5e1849 0 1375px,#5c1749 0 1420px,#5a1748 0 1464px,#581648 0 1509px,#561648 0 1553px,#511547 0 1597px,#491347 0 1642px,#441246 0 1686px,#3e1148 0 1730px,#391149 0 1775px,#37104a 0 1819px,#36104a 0 1864px)"></i><i style="height:9px;background:linear-gradient(90deg,#100519 0 89px,#11051a 0 133px,#12051c 0 178px,#14061e 0 222px,#150620 0 266px,#160621 0 311px,#170723 0 355px,#180724 0 400px,#1a0726 0 444px,#1b0827 0 488px,#1c0828 0 533px,#1d082a 0 577px,#20092d 0 621px,#230a31 0 666px,#260b36 0 710px,#290c3b 0 887px,#260b37 0 932px,#240b32 0 976px,#210a2f 0 1021px,#1e092b 0 1065px,#1d0829 0 1109px,#1c0829 0 1154px,#1b0828 0 1198px,#1b0827 0 1242px,#1a0826 0 1287px,#1a0726 0 1331px,#190725 0 1375px,#180724 0 1420px,#190725 0 1464px,#1a0726 0 1509px,#1a0826 0 1553px,#1b0827 0 1597px,#1b0828 0 1642px,#1c0829 0 1686px,#1d0829 0 1730px,#1d082a 0 1864px)"></i><i style="height:10px;background:linear-gradient(90deg,#100519 0 488px,#100518 0 533px,#100418 0 577px,#0f0418 0 621px,#0f0417 0 710px,#0f0416 0 754px,#0e0416 0 843px,#0e0415 0 932px,#0d0414 0 1065px,#0d0413 0 1109px,#0c0413 0 1154px,#0c0312 0 1242px,#0b0311 0 1331px,#0a0310 0 1375px,#0a030f 0 1464px,#09030e 0 1553px,#09020d 0 1597px,#08020c 0 1864px)"></i><i style="height:9px;background:linear-gradient(90deg,#2c0d40 0 355px,#2b0d3e 0 400px,#2a0d3d 0 444px,#290d3b 0 488px,#280c3a 0 533px,#280c39 0 577px,#270c37 0 621px,#260b36 0 666px,#250b35 0 710px,#240b33 0 754px,#230a32 0 799px,#230a31 0 1109px,#220a30 0 1154px,#210a2e 0 1198px,#20092d 0 1242px,#1e092c 0 1287px,#1d092a 0 1331px,#1c0828 0 1375px,#1a0826 0 1420px,#180724 0 1464px,#160621 0 1509px,#14061f 0 1553px,#13061e 0 1597px,#13051c 0 1642px,#12051b 0 1686px,#11051a 0 1730px,#100519 0 1864px)"></i><i style="height:10px;background:linear-gradient(90deg,#701c4a 0 222px,#6f1c4a 0 266px,#6e1c4a 0 311px,#6d1c4a 0 355px,#6c1b4a 0 400px,#6b1b4a 0 444px,#6a1b4a 0 488px,#661a4a 0 533px,#631949 0 577px,#5f1849 0 621px,#5b1749 0 666px,#581648 0 710px,#541648 0 754px,#521548 0 799px,#511547 0 843px,#4f1447 0 887px,#4c1447 0 932px,#491347 0 976px,#441246 0 1021px,#3e1148 0 1065px,#3c1148 0 1109px,#3b1149 0 1154px,#391149 0 1198px,#36104a 0 1242px,#34104b 0 1287px,#321049 0 1331px,#300f46 0 1375px,#2e0e43 0 1420px,#2b0d3f 0 1464px,#290c3b 0 1509px,#240b33 0 1553px,#1f092d 0 1597px,#1c0828 0 1642px,#190725 0 1686px,#170622 0 1730px,#14061f 0 1864px)"></i><i style="height:9px;background:linear-gradient(90deg,#a82b2f 0 45px,#a92b2e 0 89px,#aa2c2d 0 133px,#ab2d2c 0 178px,#ac2e2b 0 222px,#ae2f2a 0 311px,#ad2e2b 0 355px,#ab2d2c 0 400px,#aa2d2d 0 444px,#a92c2e 0 488px,#a82b2f 0 533px,#a42a31 0 577px,#a12933 0 621px,#9d2835 0 666px,#9a2737 0 710px,#962639 0 754px,#95263a 0 799px,#93253b 0 843px,#92253c 0 887px,#90243e 0 932px,#8d243f 0 976px,#842145 0 1021px,#7e2049 0 1065px,#781e4b 0 1109px,#731d4a 0 1154px,#6c1b4a 0 1198px,#651949 0 1242px,#5d1849 0 1287px,#561648 0 1331px,#4f1447 0 1375px,#441246 0 1420px,#3e1148 0 1464px,#3a1149 0 1509px,#36104a 0 1553px,#33104b 0 1597px,#321049 0 1642px,#310f48 0 1686px,#300f46 0 1730px,#2f0e44 0 1864px)"></i><i style="height:10px;background:linear-gradient(90deg,#a82b2f 0 45px,#aa2c2d 0 89px,#ae2f2a 0 133px,#b23227 0 178px,#b53425 0 222px,#b83622 0 266px,#bb3920 0 311px,#bd3b1f 0 355px,#bf3d1e 0 400px,#c13f1d 0 444px,#c3411c 0 488px,#c4421b 0 533px,#c6441a 0 577px,#c8461a 0 621px,#c94719 0 666px,#ca4818 0 710px,#cb4918 0 754px,#cc4a17 0 799px,#cd4b16 0 843px,#cc4a17 0 887px,#cb4917 0 932px,#ca4818 0 1021px,#c84619 0 1065px,#c6441b 0 1109px,#c2401c 0 1154px,#c03e1e 0 1198px,#bc3a20 0 1242px,#ba3821 0 1287px,#b63523 0 1331px,#b33226 0 1375px,#ae2f2a 0 1420px,#a82b2f 0 1464px,#a22932 0 1509px,#9c2836 0 1553px,#95263a 0 1597px,#8d243f 0 1642px,#842145 0 1686px,#7b1f4b 0 1730px,#701c4a 0 1775px,#681a4a 0 1819px,#651949 0 1864px)"></i><i style="height:9px;background:linear-gradient(90deg,#ab2d2c 0 45px,#ad2f2b 0 89px,#b13128 0 133px,#b53425 0 178px,#b93721 0 222px,#bd3b1f 0 266px,#c13f1d 0 311px,#c4421c 0 355px,#c7451a 0 400px,#ca4818 0 444px,#cc4a17 0 488px,#cf4d15 0 533px,#d14f14 0 577px,#d25013 0 621px,#d35112 0 666px,#d45212 0 754px,#d55311 0 843px,#d65411 0 887px,#d65511 0 932px,#d65612 0 976px,#d55311 0 1021px,#d25013 0 1065px,#cf4d15 0 1109px,#ce4c16 0 1154px,#cb4917 0 1198px,#c84619 0 1242px,#c6441b 0 1287px,#c2401c 0 1331px,#c03e1e 0 1375px,#bc3a20 0 1420px,#ba3821 0 1464px,#b63523 0 1509px,#b33326 0 1553px,#b03128 0 1597px,#ac2e2c 0 1642px,#a82b2f 0 1686px,#a42a32 0 1730px,#9b2737 0 1775px,#95263a 0 1819px,#92253c 0 1864px)"></i><i style="height:10px;background:linear-gradient(90deg,#802048 0 133px,#812147 0 178px,#822146 0 222px,#832146 0 266px,#842145 0 311px,#862244 0 355px,#882243 0 400px,#892342 0 444px,#8b2341 0 488px,#8d2440 0 533px,#8e243f 0 577px,#8e243e 0 621px,#8f243e 0 666px,#90243d 0 710px,#91253d 0 754px,#91253c 0 799px,#92253c 0 843px,#91253c 0 887px,#90253d 0 932px,#90243e 0 976px,#8f243e 0 1021px,#8e243e 0 1065px,#8d243f 0 1109px,#8b2340 0 1154px,#892342 0 1198px,#862244 0 1242px,#842145 0 1287px,#832146 0 1331px,#812147 0 1375px,#802048 0 1420px,#7e2049 0 1464px,#7d1f4a 0 1509px,#7b1f4b 0 1553px,#791f4b 0 1597px,#771e4b 0 1642px,#751e4b 0 1686px,#741d4a 0 1730px,#721d4a 0 1775px,#701c4a 0 1864px)"></i><i style="height:9px;background:linear-gradient(90deg,#5f1849 0 222px,#601849 0 311px,#611849 0 355px,#611949 0 400px,#621949 0 488px,#631949 0 577px,#641949 0 666px,#651949 0 710px,#641949 0 754px,#631949 0 843px,#621949 0 887px,#611949 0 932px,#611849 0 976px,#601849 0 1065px,#5f1849 0 1109px,#5e1849 0 1154px,#5d1849 0 1198px,#5c1749 0 1242px,#5b1749 0 1287px,#5a1748 0 1331px,#571648 0 1375px,#551648 0 1420px,#531548 0 1464px,#511547 0 1509px,#4f1447 0 1553px,#4e1447 0 1597px,#4d1447 0 1642px,#4c1447 0 1686px,#4a1347 0 1730px,#491347 0 1864px)"></i><i style="height:10px;background:linear-gradient(90deg,#4f1447 0 89px,#4f1547 0 133px,#501547 0 178px,#511547 0 222px,#521548 0 266px,#531548 0 311px,#541648 0 355px,#551648 0 400px,#561648 0 444px,#571648 0 488px,#581648 0 533px,#591748 0 577px,#5a1748 0 621px,#5b1749 0 666px,#5c1749 0 710px,#5d1849 0 754px,#5e1849 0 799px,#601849 0 843px,#611949 0 887px,#631949 0 932px,#651949 0 976px,#631949 0 1021px,#611849 0 1065px,#5f1849 0 1109px,#5e1849 0 1154px,#5d1749 0 1198px,#5b1749 0 1242px,#5a1748 0 1287px,#591748 0 1331px,#561648 0 1375px,#541648 0 1420px,#521548 0 1464px,#501547 0 1509px,#4e1447 0 1553px,#4d1447 0 1597px,#4c1447 0 1642px,#4b1447 0 1686px,#4a1347 0 1730px,#491347 0 1864px)"></i><i style="height:10px;background:linear-gradient(90deg,#5a1748 0 89px,#5c1749 0 133px,#5e1849 0 178px,#611849 0 222px,#641949 0 266px,#671a4a 0 311px,#6a1b4a 0 355px,#6e1c4a 0 400px,#721d4a 0 444px,#751e4b 0 488px,#791f4b 0 533px,#7d1f4a 0 577px,#802048 0 621px,#812147 0 666px,#832146 0 710px,#842145 0 754px,#862244 0 799px,#872243 0 843px,#882242 0 932px,#872243 0 976px,#862244 0 1021px,#842145 0 1065px,#832146 0 1109px,#812147 0 1154px,#802048 0 1198px,#7e2049 0 1242px,#7d1f4a 0 1287px,#7b1f4b 0 1331px,#771e4b 0 1375px,#741d4a 0 1420px,#701c4a 0 1464px,#6c1b4a 0 1509px,#681a4a 0 1553px,#651949 0 1597px,#631949 0 1642px,#611849 0 1686px,#5f1849 0 1730px,#5d1849 0 1775px,#5b1749 0 1819px,#5a1748 0 1864px)"></i><i style="height:9px;background:linear-gradient(90deg,#bb3920 0 45px,#bd3b1f 0 89px,#c03e1e 0 133px,#c4421c 0 178px,#c8461a 0 222px,#cb4917 0 266px,#cf4d15 0 311px,#d35112 0 355px,#d65612 0 400px,#d75912 0 444px,#d85b12 0 488px,#d95d13 0 533px,#da6013 0 577px,#db6314 0 621px,#db6514 0 666px,#db6614 0 710px,#dc6714 0 754px,#dc6815 0 976px,#db6414 0 1021px,#da6214 0 1065px,#da6013 0 1109px,#d95e13 0 1154px,#d85b12 0 1198px,#d75812 0 1242px,#d65511 0 1287px,#d45212 0 1331px,#d04e14 0 1375px,#cd4b16 0 1420px,#c7451a 0 1464px,#c3411c 0 1509px,#bf3d1e 0 1553px,#bb3920 0 1597px,#b53425 0 1642px,#ae2f2a 0 1686px,#aa2c2d 0 1730px,#a62a30 0 1775px,#a12933 0 1819px,#9f2934 0 1864px)"></i><i style="height:10px;background:linear-gradient(90deg,#e0841e 0 45px,#e0861f 0 89px,#e18820 0 133px,#e18b22 0 178px,#e18d24 0 222px,#e19025 0 266px,#e29327 0 311px,#e2962a 0 355px,#e29a2c 0 400px,#e29d2f 0 444px,#e2a032 0 488px,#e3a334 0 533px,#e3a537 0 577px,#e3a839 0 621px,#e3aa3b 0 666px,#e3ac3f 0 710px,#e3ad41 0 754px,#e3ae42 0 799px,#e3ae43 0 843px,#e3af44 0 932px,#e3ad42 0 976px,#e3ac3f 0 1021px,#e3a93a 0 1065px,#e3a738 0 1109px,#e3a436 0 1154px,#e2a233 0 1198px,#e29e30 0 1242px,#e2992b 0 1287px,#e29629 0 1331px,#e29227 0 1375px,#e19025 0 1420px,#e18c23 0 1464px,#e18921 0 1509px,#e0861f 0 1553px,#e0831d 0 1597px,#e0811c 0 1642px,#df7c19 0 1686px,#df7818 0 1730px,#de7517 0 1775px,#dd7116 0 1864px)"></i><i style="height:9px;background:linear-gradient(90deg,#df7d1a 0 89px,#df7e1a 0 133px,#e0801b 0 178px,#e0811c 0 222px,#e0831d 0 266px,#e0841e 0 311px,#e0851f 0 355px,#e0871f 0 400px,#e18820 0 444px,#e18921 0 488px,#e18a22 0 533px,#e18b22 0 577px,#e18a21 0 621px,#e18921 0 666px,#e18820 0 754px,#e0861f 0 799px,#e0851f 0 843px,#e0841e 0 887px,#e0821d 0 932px,#e0811c 0 976px,#df7a18 0 1021px,#de7717 0 1065px,#de7517 0 1109px,#de7217 0 1154px,#dd6d16 0 1198px,#db6414 0 1242px,#d95f13 0 1287px,#d85b12 0 1331px,#d75812 0 1375px,#d65511 0 1420px,#d35112 0 1464px,#cf4d15 0 1509px,#cc4a17 0 1553px,#c84619 0 1597px,#c4421c 0 1642px,#be3c1f 0 1686px,#b83622 0 1730px,#b23227 0 1775px,#ad2f2b 0 1819px,#ab2d2c 0 1864px)"></i><i style="height:10px;background:linear-gradient(90deg,#da6113 0 488px,#d95f13 0 533px,#d85b12 0 577px,#d75812 0 621px,#d65511 0 666px,#d45211 0 710px,#d25013 0 754px,#cf4d15 0 799px,#cd4b16 0 843px,#ca4818 0 887px,#c7451a 0 932px,#c4421c 0 976px,#be3c1f 0 1021px,#ba3821 0 1065px,#b53425 0 1109px,#ae2f2a 0 1154px,#aa2c2e 0 1198px,#a62a30 0 1242px,#a12933 0 1287px,#9d2835 0 1331px,#992738 0 1375px,#94263b 0 1420px,#8f243e 0 1464px,#882243 0 1509px,#832146 0 1553px,#802048 0 1597px,#7b1f4b 0 1642px,#741d4a 0 1686px,#6f1c4a 0 1730px,#6c1b4a 0 1775px,#6a1b4a 0 1864px)"></i><i style="height:9px;background:linear-gradient(90deg,#db6414 0 89px,#db6514 0 133px,#db6614 0 178px,#dc6715 0 222px,#dc6915 0 266px,#dc6a15 0 311px,#dc6b15 0 355px,#dd6d16 0 621px,#dc6b15 0 666px,#dc6815 0 710px,#db6414 0 754px,#da6214 0 799px,#d95f13 0 843px,#d95d13 0 887px,#d75a12 0 932px,#d65612 0 976px,#d55411 0 1021px,#d45212 0 1065px,#d14f14 0 1109px,#ce4c15 0 1154px,#cd4b16 0 1198px,#c7451a 0 1242px,#c13f1d 0 1287px,#bc3a20 0 1331px,#ba3821 0 1375px,#b53425 0 1420px,#ae2f2a 0 1464px,#aa2c2d 0 1509px,#a52a31 0 1553px,#9e2835 0 1597px,#992738 0 1642px,#94263b 0 1686px,#8f243e 0 1730px,#8a2341 0 1775px,#842145 0 1864px)"></i><i style="height:10px;background:linear-gradient(90deg,#dd7116 0 89px,#de7217 0 133px,#de7317 0 178px,#de7417 0 222px,#de7617 0 266px,#df7918 0 311px,#df7b19 0 355px,#df7d1a 0 400px,#e0801b 0 444px,#e0821d 0 488px,#e0841e 0 533px,#e18820 0 577px,#e18c23 0 621px,#e18e24 0 710px,#e18f25 0 799px,#e19025 0 932px,#e19026 0 976px,#e19126 0 1065px,#e19025 0 1154px,#e18f25 0 1198px,#e18e24 0 1287px,#e18d24 0 1331px,#e18d23 0 1375px,#e18c23 0 1420px,#e18c22 0 1464px,#e18b22 0 1509px,#e18820 0 1553px,#e0841e 0 1597px,#e0811c 0 1642px,#df7c19 0 1686px,#de7717 0 1730px,#dd7116 0 1864px)"></i><i style="height:9px;background:linear-gradient(90deg,#ca4818 0 45px,#cb4917 0 89px,#cd4b16 0 133px,#cf4d15 0 178px,#d25013 0 222px,#d45212 0 266px,#d65611 0 311px,#d95f13 0 355px,#dc6815 0 400px,#de7217 0 444px,#df7718 0 488px,#df7d1a 0 533px,#e0821d 0 577px,#e18820 0 621px,#e18a21 0 666px,#e18c23 0 710px,#e18e24 0 754px,#e19025 0 799px,#e19227 0 843px,#e29428 0 887px,#e29528 0 932px,#e29529 0 976px,#e29629 0 1021px,#e2972a 0 1109px,#e2982b 0 1198px,#e2992b 0 1242px,#e29a2c 0 1375px,#e2992c 0 1420px,#e2992b 0 1509px,#e2982b 0 1642px,#e2982a 0 1686px,#e2972a 0 1864px)"></i><i style="height:10px;background:linear-gradient(90deg,#c7451a 0 45px,#c84619 0 89px,#ca4818 0 133px,#cc4a17 0 178px,#ce4c16 0 222px,#d04e14 0 266px,#d35113 0 311px,#d65612 0 355px,#d95e13 0 400px,#db6614 0 444px,#dc6c15 0 488px,#de7217 0 533px,#df7918 0 577px,#e07e1a 0 621px,#e0811c 0 666px,#e0831d 0 710px,#e0841e 0 754px,#e0851f 0 799px,#e0861f 0 843px,#e18720 0 887px,#e18820 0 1198px,#e0861f 0 1242px,#e0851f 0 1287px,#e0841e 0 1331px,#e0831d 0 1375px,#e0821d 0 1420px,#e0811c 0 1464px,#e07f1b 0 1509px,#df7918 0 1553px,#de7317 0 1597px,#dc6b15 0 1642px,#db6614 0 1686px,#da6214 0 1730px,#d95f13 0 1864px)"></i><i style="height:10px;background:linear-gradient(90deg,#c13f1d 0 45px,#c2401d 0 89px,#c4421c 0 133px,#c6441b 0 178px,#c84619 0 222px,#cb4918 0 266px,#cd4b16 0 311px,#d25013 0 355px,#d65511 0 400px,#d85b12 0 444px,#d95d13 0 488px,#da6214 0 533px,#dc6715 0 577px,#dd6d16 0 621px,#dd7016 0 666px,#de7317 0 710px,#de7617 0 754px,#df7818 0 799px,#df7a18 0 843px,#df7c19 0 887px,#df7d1a 0 1198px,#df7c19 0 1242px,#df7b19 0 1287px,#df7a18 0 1331px,#df7918 0 1375px,#de7717 0 1420px,#de7617 0 1464px,#de7317 0 1509px,#dd6d16 0 1553px,#dc6715 0 1597px,#da6214 0 1642px,#da6113 0 1686px,#d95f13 0 1730px,#d95d13 0 1864px)"></i><i style="height:9px;background:linear-gradient(90deg,#d95d13 0 45px,#d95e13 0 89px,#da6013 0 133px,#da6214 0 178px,#db6414 0 222px,#db6614 0 266px,#dc6815 0 311px,#dc6b15 0 355px,#dd6d16 0 400px,#dd7016 0 444px,#de7317 0 488px,#de7717 0 533px,#df7a18 0 577px,#df7c19 0 621px,#df7d1a 0 666px,#e07f1b 0 710px,#e0811c 0 754px,#e0821d 0 799px,#e0831d 0 843px,#e0841e 0 932px,#e0821d 0 976px,#e0811c 0 1021px,#e07f1b 0 1065px,#df7e1a 0 1109px,#df7d1a 0 1154px,#df7b19 0 1198px,#df7a18 0 1242px,#df7818 0 1287px,#de7617 0 1331px,#de7317 0 1375px,#dd7016 0 1420px,#dd6d16 0 1464px,#dc6a15 0 1509px,#dc6715 0 1553px,#db6414 0 1597px,#da6113 0 1642px,#d95d13 0 1686px,#d75a12 0 1730px,#d65712 0 1775px,#d55411 0 1819px,#d55311 0 1864px)"></i><i style="height:10px;background:linear-gradient(90deg,#e18b22 0 133px,#e18c22 0 178px,#e18c23 0 311px,#e18d23 0 400px,#e18e24 0 533px,#e18d23 0 577px,#e18c23 0 621px,#e18c22 0 666px,#e18b22 0 710px,#e18a21 0 754px,#e18921 0 799px,#e18820 0 887px,#e0821d 0 932px,#df7d1a 0 976px,#df7a18 0 1021px,#de7617 0 1065px,#dd7116 0 1109px,#dd6d16 0 1154px,#dc6815 0 1198px,#db6414 0 1242px,#da6113 0 1287px,#d95d13 0 1331px,#d75a12 0 1375px,#d65612 0 1420px,#d55311 0 1464px,#d14f13 0 1509px,#ce4c16 0 1553px,#ca4818 0 1597px,#c5431b 0 1642px,#c03e1e 0 1686px,#bc3a20 0 1730px,#b73523 0 1775px,#b23227 0 1864px)"></i><i style="height:9px;background:linear-gradient(90deg,#e29d2f 0 133px,#e29e30 0 178px,#e29f31 0 222px,#e2a032 0 266px,#e2a133 0 311px,#e3a233 0 355px,#e3a334 0 400px,#e3a435 0 444px,#e3a536 0 488px,#e3a637 0 533px,#e3a738 0 577px,#e3a839 0 621px,#e3a93b 0 666px,#e3aa3c 0 710px,#e3ab3d 0 754px,#e3ac3f 0 843px,#e3ab3d 0 887px,#e3aa3c 0 932px,#e3a93a 0 976px,#e3a536 0 1021px,#e3a233 0 1065px,#e29f31 0 1109px,#e29d2f 0 1154px,#e29b2d 0 1198px,#e2992b 0 1242px,#e2972a 0 1287px,#e29529 0 1331px,#e29327 0 1375px,#e19126 0 1420px,#e18f24 0 1464px,#e18c23 0 1509px,#e0851f 0 1553px,#df7e1a 0 1597px,#de7417 0 1642px,#dd6e16 0 1686px,#dc6715 0 1730px,#da6114 0 1775px,#d85d13 0 1819px,#d75812 0 1864px)"></i><i style="height:10px;background:linear-gradient(90deg,#e29a2c 0 45px,#e29b2d 0 89px,#e29d2f 0 133px,#e29f31 0 178px,#e2a132 0 222px,#e3a334 0 266px,#e3a436 0 311px,#e3a637 0 355px,#e3a93a 0 400px,#e3ac3f 0 444px,#e3af45 0 488px,#e3b34a 0 533px,#e3b650 0 577px,#e3b955 0 621px,#e3bc5c 0 666px,#e4bf63 0 710px,#e4c36a 0 754px,#e4c46c 0 799px,#e4c56f 0 843px,#e5c671 0 887px,#e4c46e 0 932px,#e4c36a 0 976px,#e4bf63 0 1021px,#e3bc5c 0 1065px,#e3ba57 0 1109px,#e3b853 0 1154px,#e3b650 0 1198px,#e3b44c 0 1242px,#e3b248 0 1287px,#e3af45 0 1331px,#e3ac3f 0 1375px,#e3a93a 0 1420px,#e3a637 0 1464px,#e3a334 0 1509px,#e29c2e 0 1553px,#e29629 0 1597px,#e18f25 0 1642px,#e18b22 0 1686px,#e18720 0 1730px,#e0831d 0 1775px,#e07f1b 0 1864px)"></i><i style="height:9px;background:linear-gradient(90deg,#e18820 0 45px,#e18921 0 89px,#e18c23 0 133px,#e19025 0 178px,#e19227 0 222px,#e29529 0 266px,#e2972a 0 311px,#e29a2c 0 355px,#e29e30 0 400px,#e3a233 0 444px,#e3a637 0 488px,#e3aa3c 0 533px,#e3ae43 0 577px,#e3b34a 0 621px,#e3b751 0 666px,#e3bb5a 0 710px,#e4bf63 0 754px,#e4c36a 0 799px,#e5c671 0 843px,#e5c978 0 887px,#e6cc80 0 932px,#e7cf89 0 976px,#e6ce86 0 1021px,#e6cd83 0 1065px,#e7cf89 0 1109px,#e7d18d 0 1154px,#e7d391 0 1198px,#e7d18d 0 1242px,#e7cf89 0 1287px,#e6ce84 0 1331px,#e6cc7f 0 1375px,#e5ca7a 0 1420px,#e5c876 0 1464px,#e4c36b 0 1509px,#e4be60 0 1553px,#e3b955 0 1597px,#e3b751 0 1642px,#e3b54e 0 1686px,#e3b34a 0 1730px,#e3b046 0 1775px,#e3ad42 0 1819px,#e3ac3f 0 1864px)"></i><i style="height:10px;background:linear-gradient(90deg,#df7a18 0 45px,#df7c19 0 89px,#e07f1b 0 133px,#e0821d 0 178px,#e0861f 0 222px,#e18921 0 266px,#e18b22 0 311px,#e18e24 0 355px,#e19227 0 400px,#e29629 0 444px,#e29a2c 0 488px,#e29e30 0 533px,#e3a233 0 577px,#e3a637 0 621px,#e3aa3c 0 666px,#e3ae43 0 710px,#e3b34a 0 754px,#e3b853 0 799px,#e4bd5e 0 843px,#e4c36a 0 887px,#e5c978 0 932px,#e7cf89 0 976px,#e7d28e 0 1021px,#e8d494 0 1065px,#e8d69a 0 1109px,#e9daa5 0 1154px,#eadcac 0 1198px,#eaddae 0 1242px,#ebdeb0 0 1287px,#ebdeb1 0 1331px,#ebdfb3 0 1375px,#ebdfb4 0 1420px,#ebdfb5 0 1464px,#ebdfb3 0 1509px,#ebdeb2 0 1553px,#ebdeb1 0 1597px,#ebddaf 0 1642px,#ebddae 0 1686px,#eaddad 0 1730px,#eadcac 0 1864px)"></i><i style="height:9px;background:linear-gradient(90deg,#e2972a 0 133px,#e2982b 0 178px,#e2992b 0 222px,#e2992c 0 266px,#e29a2c 0 311px,#e29b2d 0 355px,#e29d2e 0 400px,#e29e30 0 444px,#e29f31 0 488px,#e2a132 0 533px,#e3a233 0 577px,#e3a335 0 621px,#e3a536 0 666px,#e3a637 0 710px,#e3a738 0 754px,#e3a839 0 843px,#e3a93a 0 887px,#e3ac3f 0 932px,#e3af45 0 976px,#e3af44 0 1021px,#e3af43 0 1065px,#e3ae43 0 1109px,#e3ae42 0 1154px,#e3ad41 0 1242px,#e3ad40 0 1287px,#e3ac3f 0 1375px,#e3ac3e 0 1420px,#e3ab3e 0 1464px,#e3ab3d 0 1553px,#e3aa3c 0 1642px,#e3aa3b 0 1686px,#e3a93b 0 1730px,#e3a93a 0 1864px)"></i><i style="height:10px;background:linear-gradient(90deg,#e0841e 0 266px,#e0831d 0 355px,#e0821d 0 400px,#e0821c 0 444px,#e0811c 0 488px,#e0801b 0 533px,#df7e1a 0 577px,#df7c19 0 621px,#df7a18 0 666px,#de7617 0 710px,#de7317 0 754px,#dd6f16 0 799px,#dc6c15 0 843px,#dc6815 0 887px,#db6614 0 932px,#db6414 0 976px,#d95d13 0 1021px,#d75a12 0 1065px,#d65612 0 1109px,#d55311 0 1154px,#d25013 0 1198px,#cf4d15 0 1242px,#cd4b16 0 1287px,#cb4918 0 1331px,#c94719 0 1375px,#c7451a 0 1420px,#c5431b 0 1464px,#c4421c 0 1509px,#c2401d 0 1553px,#c03e1e 0 1597px,#be3c1f 0 1642px,#bc3a20 0 1686px,#ba3821 0 1730px,#b83622 0 1864px)"></i><i style="height:10px;background:linear-gradient(90deg,#e0811c 0 89px,#e0821c 0 133px,#e0831d 0 178px,#e0851e 0 222px,#e0861f 0 266px,#e18820 0 311px,#e18921 0 355px,#e18b22 0 400px,#e18c23 0 444px,#e18d24 0 488px,#e18f25 0 533px,#e19126 0 577px,#e29327 0 621px,#e29529 0 666px,#e2972a 0 710px,#e2982b 0 754px,#e29a2c 0 799px,#e29c2d 0 843px,#e29d2f 0 887px,#e29e30 0 932px,#e2a032 0 976px,#e2a031 0 1021px,#e29f31 0 1154px,#e29f30 0 1198px,#e29e30 0 1287px,#e29e2f 0 1331px,#e29d2f 0 1864px)"></i><i style="height:9px;background:linear-gradient(90deg,#d75a12 0 45px,#d85c13 0 89px,#da6013 0 133px,#db6414 0 178px,#dc6815 0 222px,#dd6d16 0 266px,#dd7116 0 311px,#de7617 0 355px,#df7a18 0 400px,#df7d1a 0 444px,#e0821d 0 488px,#e0861f 0 533px,#e18b22 0 577px,#e18e24 0 621px,#e19227 0 666px,#e29529 0 710px,#e2992b 0 754px,#e29c2e 0 799px,#e2a031 0 843px,#e3a334 0 887px,#e3a93a 0 932px,#e3af45 0 976px,#e3b34a 0 1021px,#e3b650 0 1065px,#e3b955 0 1109px,#e3bc5c 0 1154px,#e4bf63 0 1198px,#e4c36a 0 1242px,#e5c671 0 1287px,#e5c978 0 1331px,#e6cb7e 0 1375px,#e6cd83 0 1420px,#e7cf89 0 1464px,#e7d28e 0 1509px,#e8d494 0 1553px,#e8d69a 0 1597px,#e9d8a0 0 1642px,#eadba8 0 1686px,#ebddaf 0 1730px,#ece0b7 0 1775px,#ede3bf 0 1864px)"></i><i style="height:10px;background:linear-gradient(90deg,#e29428 0 89px,#e29529 0 133px,#e2972a 0 178px,#e2982b 0 222px,#e29a2c 0 266px,#e29d2f 0 311px,#e2a032 0 355px,#e3a334 0 400px,#e3a637 0 444px,#e3a93a 0 488px,#e3ac3f 0 533px,#e3af45 0 577px,#e3b34a 0 621px,#e3b650 0 666px,#e3b955 0 710px,#e3bc5c 0 754px,#e4bf63 0 799px,#e4c269 0 843px,#e4c56e 0 887px,#e5c773 0 932px,#e5c978 0 976px,#e6cc80 0 1021px,#e7cf89 0 1065px,#e7d28e 0 1109px,#e8d494 0 1154px,#e8d69a 0 1198px,#e8d79c 0 1242px,#e9d89f 0 1287px,#e9d9a2 0 1331px,#e9d8a0 0 1375px,#e9d89e 0 1420px,#e8d79c 0 1464px,#e8d69b 0 1509px,#e8d598 0 1553px,#e8d495 0 1597px,#e7d392 0 1642px,#e7d28f 0 1686px,#e7d18c 0 1730px,#e7cf89 0 1864px)"></i><i style="height:9px;background:linear-gradient(90deg,#e8d69a 0 45px,#e7d391 0 89px,#e7cf89 0 133px,#e6ce85 0 178px,#e6cc80 0 222px,#e5cb7c 0 266px,#e5c978 0 311px,#e5c876 0 355px,#e5c774 0 400px,#e5c773 0 444px,#e5c671 0 488px,#e4c46c 0 533px,#e4c268 0 577px,#e4bf63 0 621px,#e4bd5e 0 666px,#e3bb5a 0 710px,#e3b955 0 754px,#e3b751 0 799px,#e3b54e 0 843px,#e3b34a 0 887px,#e3b148 0 932px,#e3af45 0 976px,#e3ac3f 0 1021px,#e3a93a 0 1065px,#e3a738 0 1109px,#e3a536 0 1154px,#e3a334 0 1198px,#e2a133 0 1242px,#e29f31 0 1287px,#e29d2f 0 1331px,#e29a2c 0 1375px,#e2972a 0 1420px,#e29428 0 1464px,#e19126 0 1509px,#e18e24 0 1553px,#e18b22 0 1597px,#e0861f 0 1642px,#e0821d 0 1686px,#df7d1a 0 1730px,#df7918 0 1775px,#de7417 0 1819px,#dd7116 0 1864px)"></i><i style="height:10px;background:linear-gradient(90deg,#e3af45 0 45px,#e3ae43 0 89px,#e3ac3f 0 133px,#e3aa3c 0 178px,#e3a839 0 222px,#e3a738 0 266px,#e3a537 0 311px,#e3a435 0 355px,#e3a233 0 400px,#e29f31 0 444px,#e29d2e 0 488px,#e29a2c 0 533px,#e2972a 0 577px,#e29428 0 621px,#e19126 0 666px,#e18e24 0 710px,#e18b22 0 754px,#e18820 0 799px,#e0851e 0 843px,#e0821d 0 887px,#e0801b 0 932px,#df7d1a 0 976px,#de7617 0 1021px,#dd6e16 0 1065px,#dc6715 0 1109px,#da6114 0 1154px,#d85c13 0 1198px,#d75812 0 1242px,#d55411 0 1287px,#d25013 0 1331px,#d04e14 0 1375px,#ce4c15 0 1420px,#cd4b16 0 1464px,#ca4818 0 1509px,#c7451a 0 1553px,#c4421c 0 1597px,#c13f1d 0 1642px,#be3c1f 0 1686px,#bb3920 0 1730px,#b83622 0 1864px)"></i><i style="height:9px;background:linear-gradient(90deg,#b53425 0 45px,#b63524 0 89px,#b93722 0 133px,#be3c1f 0 178px,#c3411c 0 222px,#c7451a 0 266px,#c94719 0 311px,#cb4917 0 355px,#cd4b16 0 400px,#d04e14 0 444px,#d25013 0 488px,#d55311 0 533px,#d65612 0 710px,#d75a12 0 754px,#d95d13 0 799px,#da6113 0 843px,#db6414 0 887px,#dc6815 0 932px,#dd6d16 0 976px,#dd7116 0 1021px,#de7617 0 1065px,#df7918 0 1109px,#df7b19 0 1154px,#df7d1a 0 1198px,#e0801b 0 1242px,#e0821d 0 1287px,#e0841e 0 1331px,#e0861f 0 1375px,#e18921 0 1420px,#e18b22 0 1464px,#e18d23 0 1509px,#e18f25 0 1553px,#e19126 0 1597px,#e29227 0 1642px,#e29428 0 1686px,#e29629 0 1730px,#e2972a 0 1864px)"></i><i style="height:10px;background:linear-gradient(90deg,#a42a32 0 45px,#a62b30 0 89px,#ab2d2d 0 133px,#ae2f2a 0 178px,#b23227 0 222px,#b63424 0 266px,#b93721 0 311px,#bd3b1f 0 355px,#c03e1e 0 400px,#c4421c 0 444px,#c7451a 0 488px,#cb4918 0 533px,#ce4c15 0 577px,#d25013 0 621px,#d45212 0 666px,#d55411 0 710px,#d65612 0 754px,#d75912 0 799px,#d85b12 0 843px,#d95d13 0 887px,#da6113 0 932px,#db6414 0 976px,#dc6815 0 1021px,#dd6d16 0 1065px,#dd7116 0 1109px,#de7617 0 1154px,#df7a18 0 1198px,#df7c19 0 1242px,#e07f1b 0 1287px,#e0811c 0 1331px,#e0821d 0 1375px,#e0841e 0 1420px,#e0851f 0 1464px,#e18720 0 1509px,#e18820 0 1553px,#e18921 0 1642px,#e18a21 0 1686px,#e18a22 0 1730px,#e18b22 0 1864px)"></i><i style="height:9px;background:linear-gradient(90deg,#dc6815 0 1109px,#db6614 0 1154px,#db6514 0 1198px,#db6314 0 1242px,#da6214 0 1287px,#da6114 0 1331px,#da6013 0 1375px,#d95f13 0 1420px,#d95d13 0 1464px,#d85c13 0 1509px,#d85a12 0 1553px,#d75912 0 1597px,#d75812 0 1642px,#d65612 0 1686px,#d65511 0 1730px,#d55311 0 1864px)"></i><i style="height:10px;background:linear-gradient(90deg,#e0811c 0 133px,#e0821d 0 178px,#e0831d 0 222px,#e0831e 0 266px,#e0841e 0 311px,#e0851f 0 355px,#e0871f 0 400px,#e18820 0 444px,#e18921 0 488px,#e18a22 0 533px,#e18c23 0 577px,#e18d23 0 621px,#e18f25 0 666px,#e19025 0 710px,#e19227 0 754px,#e29327 0 799px,#e29428 0 843px,#e29529 0 932px,#e29629 0 976px,#e2962a 0 1021px,#e2972a 0 1065px,#e2982a 0 1109px,#e2982b 0 1154px,#e2992b 0 1198px,#e2992c 0 1242px,#e29a2c 0 1331px,#e29b2d 0 1375px,#e29c2d 0 1864px)"></i><i style="height:9px;background:linear-gradient(90deg,#e0811c 0 89px,#e0821c 0 133px,#e0831d 0 178px,#e0851e 0 222px,#e0861f 0 266px,#e18820 0 311px,#e18921 0 355px,#e18b22 0 400px,#e18c23 0 444px,#e18d24 0 488px,#e18f25 0 533px,#e19126 0 577px,#e29428 0 621px,#e29629 0 666px,#e2982b 0 710px,#e29a2c 0 754px,#e29d2e 0 799px,#e29f31 0 843px,#e2a133 0 887px,#e3a435 0 932px,#e3a637 0 976px,#e3a839 0 1021px,#e3aa3c 0 1065px,#e3ac3f 0 1109px,#e3ad42 0 1154px,#e3af44 0 1198px,#e3b046 0 1242px,#e3b148 0 1287px,#e3b34a 0 1331px,#e3b44c 0 1375px,#e3b54f 0 1420px,#e3b651 0 1464px,#e3b853 0 1509px,#e3b955 0 1553px,#e3ba58 0 1597px,#e3bc5b 0 1642px,#e3bd5d 0 1686px,#e4be60 0 1730px,#e4bf63 0 1864px)"></i><i style="height:10px;background:linear-gradient(90deg,#e3a93a 0 45px,#e3aa3c 0 89px,#e3ac3f 0 133px,#e3ae43 0 178px,#e3b147 0 222px,#e3b44c 0 266px,#e3b650 0 311px,#e3b955 0 355px,#e3bc5c 0 400px,#e4bf63 0 444px,#e4c36a 0 488px,#e4c56f 0 533px,#e5c773 0 577px,#e5c978 0 621px,#e6cb7e 0 666px,#e6cd83 0 710px,#e7cf89 0 754px,#e7d28e 0 799px,#e8d494 0 843px,#e8d69a 0 887px,#e9d79e 0 932px,#e9d9a2 0 976px,#eadba7 0 1021px,#eadcac 0 1065px,#eaddad 0 1109px,#ebddaf 0 1154px,#ebdeb1 0 1198px,#ebdfb3 0 1242px,#ebdfb4 0 1331px,#ebdeb0 0 1375px,#eaddad 0 1420px,#eadcaa 0 1464px,#eadba7 0 1509px,#e9daa4 0 1553px,#e9d8a0 0 1597px,#e8d69b 0 1642px,#e8d496 0 1686px,#e7d391 0 1730px,#e7d08a 0 1775px,#e6cd84 0 1819px,#e6cc80 0 1864px)"></i><i style="height:10px;background:linear-gradient(90deg,#eadcac 0 45px,#eaddae 0 89px,#ebdeb1 0 133px,#ebdfb5 0 178px,#ece0b8 0 222px,#ece2bc 0 266px,#ede3bf 0 311px,#ede4c3 0 355px,#eee5c6 0 400px,#eee7cb 0 444px,#efe8d0 0 488px,#efead4 0 533px,#f0ebd7 0 577px,#f0ecda 0 621px,#f0ebd7 0 666px,#efead5 0 710px,#efe9d2 0 754px,#efe8cf 0 799px,#eee7cc 0 843px,#eee6c8 0 887px,#ede4c4 0 932px,#ede3bf 0 976px,#ece2bc 0 1021px,#ece0b8 0 1065px,#ebdfb5 0 1109px,#ebdeb2 0 1154px,#ebdeb0 0 1198px,#eaddad 0 1242px,#eadba9 0 1287px,#e9daa4 0 1331px,#e9d79e 0 1375px,#e8d495 0 1420px,#e7d18d 0 1464px,#e6ce85 0 1509px,#e5cb7c 0 1553px,#e5c774 0 1597px,#e4c36c 0 1642px,#e4bf61 0 1686px,#e3ba58 0 1730px,#e3b651 0 1775px,#e3b34a 0 1864px)"></i><i style="height:9px;background:linear-gradient(90deg,#eee6c8 0 45px,#eee7cb 0 89px,#efe8d0 0 133px,#efead4 0 178px,#f0ebd9 0 222px,#f1edde 0 266px,#f1eee1 0 311px,#f2efe4 0 355px,#f2f0e7 0 400px,#f3f1ea 0 444px,#f3f2ed 0 488px,#f3f2ee 0 533px,#f3f3ef 0 577px,#f4f3f0 0 621px,#f3f3ef 0 666px,#f3f2ed 0 710px,#f3f1ea 0 754px,#f2f0e8 0 799px,#f2efe5 0 843px,#f2efe3 0 887px,#f1eee1 0 1021px,#f1eddf 0 1065px,#f0ecdc 0 1109px,#f0ebd8 0 1154px,#efead4 0 1198px,#efe8d0 0 1242px,#eee7cb 0 1287px,#ede4c2 0 1331px,#ebdfb5 0 1375px,#e9d9a2 0 1420px,#e8d597 0 1464px,#e7d18d 0 1509px,#e6ce85 0 1553px,#e6ce86 0 1597px,#e7cf89 0 1642px,#e6ce86 0 1686px,#e5ca7b 0 1730px,#e5c672 0 1775px,#e4c36a 0 1864px)"></i><i style="height:10px;background:linear-gradient(90deg,#ede3bf 0 45px,#ede3c1 0 89px,#ede5c5 0 133px,#eee6c8 0 178px,#eee7cc 0 222px,#efe8cf 0 266px,#efe9d2 0 311px,#f0ead6 0 355px,#f0ecda 0 400px,#f1edde 0 444px,#f1eee1 0 488px,#f2efe4 0 533px,#f2f0e7 0 577px,#f3f1ea 0 621px,#f3f2ed 0 666px,#f2f0e7 0 710px,#f1eee1 0 754px,#f1ecdc 0 799px,#f0ebd9 0 843px,#f0ead6 0 887px,#efead4 0 932px,#efe9d2 0 976px,#eee7cc 0 1021px,#eee5c6 0 1065px,#ede3c1 0 1109px,#ece1ba 0 1154px,#ebdeb0 0 1198px,#eadba9 0 1242px,#e9daa4 0 1287px,#e9d79e 0 1331px,#e8d495 0 1375px,#e7d18d 0 1420px,#e6ce85 0 1464px,#e5cb7d 0 1509px,#e5c877 0 1553px,#e5c671 0 1597px,#e4c36a 0 1642px,#e4bf63 0 1686px,#e3bc5c 0 1730px,#e3ba56 0 1775px,#e3b752 0 1819px,#e3b650 0 1864px)"></i><i style="height:9px;background:linear-gradient(90deg,#e7cf89 0 45px,#e7d08a 0 89px,#e7d18e 0 133px,#e7d391 0 178px,#e8d597 0 222px,#e8d79c 0 266px,#e9d9a2 0 311px,#eadba8 0 355px,#ebddaf 0 400px,#ebdfb5 0 444px,#ece1b9 0 488px,#ece2bd 0 533px,#ede3c1 0 577px,#ede5c5 0 621px,#eee6c8 0 666px,#ede5c5 0 710px,#ede3c1 0 754px,#ece2be 0 799px,#ece1ba 0 843px,#ece0b7 0 887px,#ebdfb4 0 932px,#ebdeb0 0 976px,#eaddad 0 1021px,#eadcaa 0 1065px,#e9daa6 0 1109px,#e9d9a2 0 1154px,#e8d79c 0 1198px,#e8d597 0 1242px,#e7d391 0 1287px,#e7d18c 0 1331px,#e6cf88 0 1375px,#e6cd83 0 1420px,#e6cc7f 0 1464px,#e5cb7d 0 1509px,#e5ca7a 0 1553px,#e5c978 0 1597px,#e5c774 0 1642px,#e5c671 0 1686px,#e4c46e 0 1730px,#e4c36a 0 1864px)"></i><i style="height:10px;background:linear-gradient(90deg,#e19126 0 45px,#e19227 0 89px,#e29428 0 133px,#e29629 0 178px,#e2982b 0 222px,#e29b2d 0 266px,#e29d2f 0 311px,#e2a032 0 355px,#e3a334 0 400px,#e3a637 0 444px,#e3a93a 0 488px,#e3ac3f 0 533px,#e3af45 0 577px,#e3b34a 0 621px,#e3b650 0 666px,#e3b955 0 710px,#e3bc5c 0 754px,#e4be61 0 799px,#e4c065 0 843px,#e4c36a 0 887px,#e4c46e 0 932px,#e5c671 0 976px,#e5c774 0 1021px,#e5c877 0 1065px,#e5c979 0 1109px,#e5ca7b 0 1154px,#e5cb7d 0 1198px,#e6cb7f 0 1242px,#e6cc80 0 1287px,#e6cd82 0 1331px,#e6ce85 0 1375px,#e6cf87 0 1420px,#e7cf89 0 1464px,#e7d28e 0 1509px,#e8d494 0 1553px,#e8d69a 0 1597px,#e9d8a0 0 1642px,#eadba8 0 1686px,#ebddaf 0 1730px,#ece0b7 0 1775px,#ede3bf 0 1864px)"></i><i style="height:9px;background:linear-gradient(90deg,#c7451a 0 45px,#c84619 0 89px,#ca4818 0 133px,#cc4a17 0 178px,#ce4c16 0 222px,#d04e14 0 266px,#d35113 0 311px,#d55311 0 355px,#d65511 0 400px,#d75812 0 444px,#d75a12 0 488px,#d85c13 0 533px,#d95e13 0 577px,#da6113 0 621px,#db6314 0 666px,#db6514 0 710px,#dc6815 0 754px,#dc6b15 0 799px,#dd6e16 0 843px,#dd7116 0 887px,#de7317 0 932px,#de7617 0 976px,#df7a18 0 1021px,#df7d1a 0 1065px,#e0801b 0 1109px,#e0821d 0 1154px,#e0841e 0 1198px,#e0861f 0 1242px,#e18921 0 1287px,#e18b22 0 1331px,#e18d23 0 1375px,#e18f25 0 1420px,#e19126 0 1464px,#e29428 0 1509px,#e2972a 0 1553px,#e29a2c 0 1597px,#e29d2f 0 1642px,#e2a032 0 1686px,#e3a334 0 1730px,#e3a839 0 1775px,#e3ad40 0 1819px,#e3af45 0 1864px)"></i><i style="height:10px;background:linear-gradient(90deg,#802048 0 133px,#812147 0 178px,#822146 0 222px,#832146 0 266px,#842145 0 311px,#852244 0 355px,#862244 0 400px,#872243 0 444px,#882242 0 488px,#8a2341 0 533px,#8d243f 0 577px,#8f243e 0 621px,#92253c 0 666px,#96263a 0 710px,#992738 0 754px,#9d2836 0 799px,#a02934 0 843px,#a42a32 0 887px,#a62a30 0 932px,#a82b2f 0 976px,#ab2d2c 0 1021px,#ae2f2a 0 1065px,#b23227 0 1109px,#b53425 0 1154px,#b83622 0 1198px,#bb3920 0 1242px,#be3c1f 0 1287px,#c13f1d 0 1331px,#c3411c 0 1375px,#c5431b 0 1420px,#c7451a 0 1464px,#c94719 0 1509px,#cb4918 0 1553px,#cd4b16 0 1597px,#ce4c15 0 1642px,#d04e14 0 1686px,#d25013 0 1730px,#d35112 0 1775px,#d45211 0 1819px,#d55311 0 1864px)"></i><i style="height:9px;background:linear-gradient(90deg,#441246 0 89px,#451246 0 133px,#461246 0 178px,#471346 0 222px,#481346 0 266px,#491347 0 311px,#4b1347 0 355px,#4c1447 0 400px,#4d1447 0 444px,#4e1447 0 488px,#501547 0 533px,#511547 0 577px,#531548 0 621px,#541648 0 666px,#591748 0 710px,#5d1849 0 754px,#621949 0 799px,#691b4a 0 843px,#701c4a 0 887px,#731d4a 0 932px,#751e4b 0 976px,#7b1f4b 0 1021px,#802048 0 1065px,#832146 0 1109px,#862244 0 1154px,#892342 0 1198px,#8c2340 0 1242px,#8f243e 0 1287px,#92253c 0 1331px,#962639 0 1375px,#9b2737 0 1420px,#9f2934 0 1464px,#a42a32 0 1509px,#a82b2f 0 1553px,#ab2d2c 0 1597px,#ae2f2a 0 1642px,#b23227 0 1686px,#b53425 0 1730px,#b63524 0 1775px,#b73623 0 1819px,#b83622 0 1864px)"></i><i style="height:10px;background:linear-gradient(90deg,#290c3b 0 89px,#2a0d3c 0 133px,#2c0d40 0 178px,#2e0e43 0 222px,#2f0f45 0 266px,#310f48 0 311px,#32104a 0 355px,#34104b 0 400px,#36104a 0 444px,#38114a 0 488px,#391149 0 533px,#3b1149 0 577px,#3d1148 0 621px,#3e1148 0 666px,#431246 0 710px,#471346 0 754px,#4d1447 0 799px,#531548 0 843px,#5a1748 0 887px,#5c1749 0 932px,#5f1849 0 976px,#621949 0 1021px,#651949 0 1065px,#681a4a 0 1109px,#6c1b4a 0 1154px,#701c4a 0 1198px,#741d4a 0 1242px,#771e4b 0 1287px,#7b1f4b 0 1331px,#7e2049 0 1375px,#812147 0 1420px,#842145 0 1464px,#872243 0 1509px,#8a2341 0 1553px,#8d243f 0 1597px,#92253c 0 1642px,#962639 0 1686px,#9b2737 0 1730px,#9e2835 0 1775px,#a22933 0 1819px,#a42a32 0 1864px)"></i><i style="height:10px;background:linear-gradient(90deg,#260b36 0 89px,#270c38 0 133px,#290c3b 0 178px,#2b0d3e 0 222px,#2d0e41 0 266px,#2f0e44 0 311px,#300f46 0 355px,#321049 0 400px,#33104b 0 444px,#35104a 0 488px,#37104a 0 533px,#381149 0 577px,#3a1149 0 621px,#3c1148 0 666px,#3f1148 0 710px,#421246 0 754px,#461246 0 799px,#4a1347 0 843px,#4f1447 0 976px,#521548 0 1021px,#541648 0 1065px,#581648 0 1109px,#5b1749 0 1154px,#5f1849 0 1198px,#631949 0 1242px,#661a4a 0 1287px,#6a1b4a 0 1331px,#6e1c4a 0 1375px,#721d4a 0 1420px,#751e4b 0 1464px,#791f4b 0 1509px,#7d1f4a 0 1553px,#802048 0 1597px,#832146 0 1642px,#862244 0 1686px,#892342 0 1730px,#8c2440 0 1775px,#90253d 0 1819px,#92253c 0 1864px)"></i><i style="height:9px;background:linear-gradient(90deg,#962639 0 89px,#972639 0 133px,#982739 0 178px,#992738 0 222px,#9a2737 0 266px,#9b2737 0 311px,#9d2836 0 355px,#9f2834 0 400px,#a12933 0 444px,#a32a32 0 488px,#a52a31 0 533px,#a72b30 0 577px,#a92c2e 0 621px,#aa2d2d 0 666px,#ac2e2c 0 710px,#ae2f2a 0 754px,#af3029 0 799px,#b13128 0 843px,#b23227 0 887px,#b43326 0 932px,#b53425 0 976px,#b83622 0 1021px,#bb3920 0 1065px,#bd3b1f 0 1109px,#bf3d1e 0 1154px,#c13f1d 0 1198px,#c3411c 0 1242px,#c5431b 0 1287px,#c7451a 0 1331px,#c94719 0 1375px,#cb4918 0 1420px,#cd4b16 0 1464px,#ce4c15 0 1509px,#d04e14 0 1553px,#d25013 0 1597px,#d45212 0 1642px,#d55311 0 1686px,#d65511 0 1730px,#d65612 0 1864px)"></i><i style="height:10px;background:linear-gradient(90deg,#dd6d16 0 89px,#dd6e16 0 133px,#dd7016 0 178px,#dd7216 0 222px,#de7417 0 266px,#de7617 0 311px,#df7818 0 355px,#df7a18 0 400px,#df7b19 0 444px,#df7d1a 0 488px,#e07e1a 0 533px,#e0801b 0 577px,#e0821c 0 621px,#e0831e 0 666px,#e0851f 0 710px,#e0871f 0 754px,#e18821 0 799px,#e18a21 0 843px,#e18c22 0 887px,#e18d23 0 932px,#e18e24 0 976px,#e18f25 0 1021px,#e19025 0 1065px,#e19126 0 1109px,#e19226 0 1154px,#e19227 0 1198px,#e29327 0 1242px,#e29328 0 1287px,#e29428 0 1331px,#e29528 0 1375px,#e29529 0 1420px,#e29629 0 1464px,#e2962a 0 1509px,#e2972a 0 1553px,#e2982a 0 1597px,#e2982b 0 1642px,#e2992b 0 1686px,#e2992c 0 1730px,#e29a2c 0 1864px)"></i><i style="height:9px;background:linear-gradient(90deg,#e0811c 0 89px,#e0821c 0 133px,#e0831d 0 178px,#e0851e 0 222px,#e0861f 0 266px,#e18820 0 311px,#e18921 0 355px,#e18b22 0 400px,#e18c23 0 444px,#e18d24 0 488px,#e18f25 0 533px,#e19126 0 577px,#e29428 0 621px,#e29629 0 666px,#e2982b 0 710px,#e29a2c 0 754px,#e29d2e 0 799px,#e29f31 0 843px,#e2a132 0 887px,#e3a233 0 932px,#e3a334 0 976px,#e3a536 0 1021px,#e3a738 0 1065px,#e3a93a 0 1109px,#e3aa3c 0 1154px,#e3ac3e 0 1198px,#e3ad40 0 1242px,#e3ae43 0 1287px,#e3af45 0 1331px,#e3b148 0 1375px,#e3b34b 0 1420px,#e3b54f 0 1464px,#e3b752 0 1509px,#e3b955 0 1553px,#e3bb59 0 1597px,#e3bd5d 0 1642px,#e4bf62 0 1686px,#e4c166 0 1730px,#e4c36a 0 1864px)"></i><i style="height:10px;background:linear-gradient(90deg,#e18820 0 89px,#e18921 0 133px,#e18b22 0 178px,#e18d23 0 222px,#e18f25 0 266px,#e19126 0 311px,#e29327 0 355px,#e29529 0 400px,#e2972a 0 444px,#e2992b 0 488px,#e29c2d 0 533px,#e29e30 0 577px,#e2a133 0 621px,#e3a436 0 666px,#e3a738 0 710px,#e3a93b 0 754px,#e3ac3f 0 799px,#e3ae43 0 843px,#e3b046 0 887px,#e3b148 0 932px,#e3b34a 0 976px,#e3b651 0 1021px,#e3ba58 0 1065px,#e4bd5e 0 1109px,#e4bf62 0 1154px,#e4c166 0 1198px,#e4c36a 0 1242px,#e4c56f 0 1287px,#e5c773 0 1331px,#e5c978 0 1375px,#e6cc80 0 1420px,#e7cf89 0 1464px,#e7d391 0 1509px,#e8d597 0 1553px,#e8d79c 0 1597px,#e9d9a2 0 1642px,#eadba7 0 1686px,#eaddad 0 1730px,#ebdeb2 0 1775px,#ebdfb5 0 1864px)"></i><i style="height:9px;background:linear-gradient(90deg,#d65612 0 89px,#d65712 0 133px,#d75912 0 178px,#d85a12 0 222px,#d85c13 0 266px,#d95d13 0 311px,#d95f13 0 355px,#da6013 0 400px,#da6214 0 444px,#db6314 0 488px,#db6514 0 533px,#db6614 0 577px,#dc6714 0 621px,#dc6815 0 666px,#dc6915 0 710px,#dc6c15 0 754px,#dd6e16 0 799px,#dd7016 0 843px,#de7217 0 887px,#de7417 0 932px,#de7617 0 976px,#df7918 0 1021px,#df7b19 0 1065px,#df7d1a 0 1109px,#e07f1b 0 1154px,#e0811c 0 1198px,#e0841e 0 1242px,#e0861f 0 1287px,#e18820 0 1331px,#e18a21 0 1375px,#e18c22 0 1420px,#e18d24 0 1464px,#e18f25 0 1509px,#e19126 0 1553px,#e19227 0 1597px,#e29328 0 1642px,#e29528 0 1686px,#e29629 0 1730px,#e2972a 0 1864px)"></i><i style="height:10px;background:linear-gradient(90deg,#7b1f4b 0 89px,#7c1f4a 0 133px,#7e2049 0 178px,#802048 0 222px,#822146 0 266px,#842145 0 311px,#872243 0 355px,#8a2341 0 400px,#8d243f 0 444px,#90253d 0 488px,#94263b 0 533px,#992738 0 577px,#9d2836 0 621px,#a12933 0 666px,#a52a31 0 710px,#a82b2f 0 754px,#ab2d2d 0 799px,#ad2f2b 0 843px,#af3029 0 887px,#b03128 0 932px,#b23227 0 976px,#b53425 0 1021px,#b83622 0 1065px,#bb3920 0 1109px,#be3c1f 0 1154px,#c13f1d 0 1198px,#c4421c 0 1242px,#c7451a 0 1287px,#ca4818 0 1331px,#cd4b16 0 1375px,#cf4d15 0 1420px,#d25013 0 1464px,#d55311 0 1509px,#d65612 0 1553px,#d75a12 0 1597px,#d85c13 0 1642px,#d95f13 0 1686px,#da6114 0 1730px,#db6414 0 1864px)"></i><i style="height:9px;background:linear-gradient(90deg,#c7451a 0 89px,#c8461a 0 133px,#c94719 0 178px,#ca4818 0 222px,#cb4917 0 266px,#cd4b16 0 311px,#ce4c16 0 355px,#cf4d15 0 400px,#d04e14 0 444px,#d25013 0 488px,#d35112 0 533px,#d65712 0 577px,#d85d13 0 621px,#db6314 0 666px,#db6514 0 710px,#dc6715 0 754px,#dc6915 0 799px,#dc6c15 0 843px,#dd6f16 0 887px,#de7517 0 932px,#df7a18 0 976px,#df7d1a 0 1021px,#df7c19 0 1065px,#df7b19 0 1109px,#df7818 0 1154px,#df7b18 0 1198px,#df7d1a 0 1242px,#e07f1b 0 1287px,#e0811c 0 1331px,#e0831d 0 1375px,#e0851e 0 1420px,#e18720 0 1464px,#e18921 0 1509px,#e18b22 0 1553px,#e18d23 0 1597px,#e18f24 0 1642px,#e19026 0 1686px,#e19227 0 1730px,#e29428 0 1864px)"></i><i style="height:10px;background:linear-gradient(90deg,#b83622 0 89px,#b93722 0 133px,#ba3821 0 178px,#bb3920 0 222px,#bd3b20 0 266px,#be3c1f 0 311px,#c03e1e 0 355px,#c2401d 0 400px,#c4421c 0 444px,#c6441b 0 488px,#c84619 0 533px,#cd4b16 0 577px,#d14f14 0 621px,#d55311 0 666px,#d65612 0 710px,#d75912 0 754px,#d85b12 0 799px,#d95e13 0 843px,#da6113 0 887px,#db6514 0 932px,#dc6b15 0 976px,#dd6f16 0 1021px,#dd7116 0 1065px,#de7217 0 1109px,#de7317 0 1154px,#de7617 0 1198px,#df7818 0 1242px,#df7a18 0 1287px,#df7c19 0 1331px,#e07f1b 0 1375px,#e0811c 0 1420px,#e0831d 0 1464px,#e0851f 0 1509px,#e18820 0 1553px,#e18a21 0 1597px,#e18c22 0 1642px,#e18d24 0 1686px,#e18f25 0 1730px,#e19126 0 1864px)"></i><i style="height:10px;background:linear-gradient(90deg,#b83622 0 89px,#b93722 0 133px,#ba3821 0 178px,#bb3920 0 222px,#bd3b20 0 266px,#be3c1f 0 311px,#c03e1e 0 355px,#c2401d 0 400px,#c4421c 0 444px,#c6441b 0 488px,#c84619 0 533px,#ca4818 0 577px,#cb4917 0 621px,#cd4b16 0 666px,#cf4d15 0 710px,#d14f13 0 754px,#d35112 0 799px,#d55311 0 843px,#d65511 0 887px,#d65712 0 932px,#d75812 0 976px,#d85b12 0 1021px,#d95d13 0 1065px,#d95e13 0 1154px,#da6113 0 1198px,#db6414 0 1242px,#dc6715 0 1287px,#dc6b15 0 1331px,#dd6e16 0 1375px,#dd7116 0 1420px,#dd6e16 0 1464px,#dc6b15 0 1509px,#dd6d16 0 1553px,#de7417 0 1597px,#df7b18 0 1642px,#df7d1a 0 1686px,#e07f1b 0 1730px,#e0811c 0 1864px)"></i><i style="height:9px;background:linear-gradient(90deg,#c4421c 0 89px,#c5431b 0 133px,#c6441b 0 178px,#c7451a 0 222px,#c94719 0 266px,#ca4818 0 311px,#cb4917 0 355px,#cc4a17 0 400px,#ce4c16 0 444px,#cf4d15 0 488px,#d04e14 0 533px,#d35112 0 577px,#d55411 0 621px,#d65712 0 666px,#d75912 0 710px,#d85b12 0 754px,#d85c13 0 799px,#d95e13 0 843px,#da6013 0 887px,#db6314 0 932px,#db6614 0 976px,#dc6815 0 1021px,#dc6715 0 1065px,#db6614 0 1109px,#db6514 0 1154px,#dc6815 0 1198px,#dc6c15 0 1242px,#dd7016 0 1287px,#de7417 0 1331px,#de7717 0 1375px,#df7918 0 1420px,#de7617 0 1464px,#de7417 0 1553px,#df7a18 0 1597px,#df7e1a 0 1642px,#e0801c 0 1686px,#e0821d 0 1730px,#e0841e 0 1864px)"></i><i style="height:10px;background:linear-gradient(90deg,#be3c1f 0 89px,#bf3d1e 0 133px,#c03e1e 0 178px,#c13f1d 0 222px,#c3411c 0 266px,#c4421c 0 311px,#c6441b 0 355px,#c84619 0 400px,#ca4818 0 444px,#cc4a17 0 488px,#ce4c16 0 533px,#d25013 0 577px,#d55411 0 621px,#d75912 0 666px,#d85b12 0 710px,#d95e13 0 754px,#da6013 0 799px,#db6314 0 843px,#db6514 0 887px,#db6714 0 932px,#dc6815 0 976px,#dd6d16 0 1021px,#dc6c15 0 1065px,#dc6b15 0 1154px,#dd6f16 0 1198px,#dd7216 0 1242px,#de7417 0 1287px,#de7717 0 1331px,#df7918 0 1375px,#df7b18 0 1420px,#df7a18 0 1509px,#df7c19 0 1553px,#e07f1b 0 1597px,#e0821d 0 1642px,#e0831d 0 1686px,#e0851e 0 1730px,#e0861f 0 1864px)"></i><i style="height:9px;background:linear-gradient(90deg,#751e4b 0 89px,#761e4b 0 133px,#771e4b 0 178px,#791e4b 0 222px,#7a1f4b 0 266px,#7b1f4b 0 311px,#7d204a 0 355px,#7f2048 0 400px,#812147 0 444px,#832146 0 488px,#862244 0 533px,#892342 0 577px,#8d243f 0 621px,#90253d 0 666px,#94253b 0 710px,#972639 0 754px,#9a2737 0 799px,#9e2835 0 843px,#a12933 0 887px,#a42a31 0 932px,#a82b2f 0 976px,#b03029 0 1021px,#b83622 0 1065px,#be3c1f 0 1109px,#c4421c 0 1154px,#c94719 0 1198px,#ce4c16 0 1242px,#d25013 0 1287px,#d45212 0 1331px,#d55411 0 1375px,#d65612 0 1420px,#d75812 0 1464px,#d85a12 0 1509px,#d85c13 0 1553px,#d95e13 0 1597px,#d95f13 0 1642px,#da6113 0 1686px,#da6214 0 1730px,#db6414 0 1864px)"></i><i style="height:10px;background:linear-gradient(90deg,#ca4818 0 133px,#cc4a17 0 178px,#cd4b16 0 222px,#ce4c15 0 266px,#cf4d15 0 311px,#d14f14 0 355px,#d25013 0 400px,#d35112 0 444px,#d45211 0 488px,#d55311 0 533px,#d75812 0 577px,#d95d13 0 621px,#da6214 0 666px,#db6314 0 710px,#db6514 0 754px,#dc6715 0 799px,#dc6915 0 843px,#dd6c16 0 887px,#dd7016 0 932px,#de7317 0 976px,#df7918 0 1021px,#df7e1a 0 1065px,#e0831d 0 1109px,#e0811c 0 1154px,#e07f1b 0 1198px,#df7d1a 0 1242px,#e07f1b 0 1287px,#e0811c 0 1331px,#e0821d 0 1375px,#e0841e 0 1420px,#e0851e 0 1464px,#e0861f 0 1509px,#e18820 0 1553px,#e18a21 0 1597px,#e18c22 0 1642px,#e18d24 0 1686px,#e18f25 0 1730px,#e19126 0 1864px)"></i><i style="height:9px;background:linear-gradient(90deg,#ca4818 0 133px,#cc4a17 0 178px,#cd4b16 0 222px,#ce4c15 0 266px,#cf4d15 0 311px,#d14f14 0 355px,#d25013 0 400px,#d35112 0 444px,#d45211 0 488px,#d55311 0 533px,#d75812 0 577px,#d95d13 0 621px,#da6214 0 666px,#db6314 0 710px,#db6514 0 754px,#dc6715 0 799px,#dc6915 0 843px,#dd6c16 0 887px,#dd7016 0 932px,#de7317 0 976px,#df7b18 0 1021px,#e0801c 0 1065px,#e0861f 0 1109px,#e0831d 0 1154px,#e0811c 0 1198px,#df7e1a 0 1242px,#e07f1b 0 1287px,#e0811c 0 1331px,#e0831d 0 1375px,#e0851e 0 1420px,#e18720 0 1464px,#e18921 0 1509px,#e18b22 0 1553px,#e18d23 0 1597px,#e18f24 0 1642px,#e19026 0 1686px,#e19227 0 1730px,#e29428 0 1864px)"></i><i style="height:10px;background:linear-gradient(90deg,#ca4818 0 133px,#cc4a17 0 178px,#cd4b16 0 222px,#ce4c15 0 266px,#cf4d15 0 311px,#d04e14 0 355px,#d14f14 0 400px,#d14f13 0 444px,#d25013 0 488px,#d35112 0 533px,#d65612 0 577px,#d85c13 0 621px,#da6114 0 666px,#db6314 0 710px,#db6414 0 754px,#db6514 0 799px,#db6614 0 843px,#dc6915 0 887px,#dd6e16 0 932px,#de7317 0 976px,#df7b18 0 1021px,#e0801c 0 1065px,#e0861f 0 1109px,#e0841e 0 1154px,#e0821d 0 1198px,#e0801c 0 1242px,#e0821d 0 1287px,#e0841e 0 1331px,#e0861f 0 1375px,#e18720 0 1420px,#e18820 0 1464px,#e18a21 0 1509px,#e18b22 0 1553px,#e18d24 0 1597px,#e19025 0 1642px,#e19227 0 1686px,#e29528 0 1730px,#e2972a 0 1864px)"></i><i style="height:9px;background:linear-gradient(90deg,#dd7116 0 89px,#dd7216 0 133px,#de7317 0 178px,#de7417 0 222px,#de7517 0 266px,#de7617 0 311px,#df7818 0 355px,#df7a18 0 400px,#df7b19 0 444px,#df7d1a 0 488px,#e07e1a 0 533px,#e0801b 0 577px,#e0821c 0 621px,#e0831e 0 666px,#e0851f 0 710px,#e0871f 0 754px,#e18821 0 799px,#e18a21 0 843px,#e18c23 0 887px,#e18f24 0 932px,#e19126 0 976px,#e2972a 0 1021px,#e29d2f 0 1065px,#e3a334 0 1109px,#e3a536 0 1154px,#e3a738 0 1198px,#e3a839 0 1242px,#e3aa3c 0 1287px,#e3ac3f 0 1331px,#e3af44 0 1375px,#e3b148 0 1420px,#e3b44c 0 1464px,#e3b651 0 1509px,#e3b955 0 1553px,#e3bb59 0 1597px,#e3bd5d 0 1642px,#e4bf62 0 1686px,#e4c166 0 1730px,#e4c36a 0 1864px)"></i><i style="height:10px;background:linear-gradient(90deg,#e2972a 0 133px,#e2982b 0 178px,#e2992b 0 222px,#e2992c 0 266px,#e29a2c 0 311px,#e29b2d 0 355px,#e29d2e 0 400px,#e29e30 0 444px,#e29f31 0 488px,#e2a132 0 533px,#e3a234 0 577px,#e3a435 0 621px,#e3a537 0 666px,#e3a738 0 710px,#e3a93b 0 754px,#e3ac3f 0 799px,#e3ae43 0 843px,#e3b147 0 887px,#e3b34b 0 932px,#e3b650 0 976px,#e3b853 0 1021px,#e3ba57 0 1065px,#e3bc5c 0 1109px,#e4be60 0 1154px,#e4c064 0 1198px,#e4c269 0 1242px,#e4c46d 0 1287px,#e5c671 0 1331px,#e5c875 0 1375px,#e5ca7a 0 1420px,#e6cc7f 0 1464px,#e6cd84 0 1509px,#e7cf89 0 1553px,#e7d18e 0 1597px,#e8d393 0 1642px,#e8d598 0 1686px,#e9d79d 0 1730px,#e9d9a2 0 1864px)"></i><i style="height:10px;background:linear-gradient(90deg,#e18b22 0 89px,#e18c22 0 133px,#e18d23 0 178px,#e18e24 0 222px,#e19025 0 266px,#e19126 0 311px,#e29327 0 355px,#e29529 0 400px,#e2972a 0 444px,#e2992b 0 488px,#e29c2d 0 533px,#e29e30 0 577px,#e2a133 0 621px,#e3a436 0 666px,#e3a839 0 710px,#e3ab3d 0 754px,#e3ae42 0 799px,#e3b148 0 843px,#e3b34b 0 887px,#e3b54d 0 932px,#e3b650 0 976px,#e3b955 0 1021px,#e3bc5c 0 1065px,#e4bf63 0 1109px,#e4c167 0 1154px,#e4c36b 0 1198px,#e5c570 0 1242px,#e5c774 0 1287px,#e5c978 0 1331px,#e5cb7d 0 1375px,#e6cd82 0 1420px,#e6cf87 0 1464px,#e7d18c 0 1509px,#e7d391 0 1553px,#e8d596 0 1597px,#e8d69b 0 1642px,#e9d8a0 0 1686px,#e9daa6 0 1730px,#eadcac 0 1864px)"></i></div>
<div id="cb" style="background:linear-gradient(180deg,#f4f4f3 0.00%,#efe9d2 4.32%,#e9d9a2 9.34%,#e5c978 14.36%,#e3b955 19.39%,#e3a93a 24.41%,#e29a2c 29.43%,#e18b22 34.46%,#df7a18 39.48%,#db6414 44.50%,#d55311 49.52%,#c7451a 54.55%,#b83622 59.57%,#a82b2f 64.59%,#92253c 69.61%,#7b1f4b 74.64%,#5f1849 79.66%,#441246 84.68%,#33104b 87.69%,#220a30 91.71%,#150620 94.73%,#000000 100.00%)"></div>
<svg width="2588" height="1600" viewBox="0 0 2588 1600">
<g stroke="#f6eed1" stroke-width="2" stroke-dasharray="1 2" fill="none" shape-rendering="crispEdges"><path d="M399 160 V1440"/><path d="M621 160 V1440"/><path d="M843 160 V1440"/><path d="M1064 160 V1440"/><path d="M1286 160 V1440"/><path d="M1508 160 V1440"/><path d="M1730 160 V1440"/><path d="M1952 160 V1440"/><path d="M2173 160 V1440"/><path d="M313 1375 H2174"/><path d="M313 1321 H2174"/><path d="M313 1274 H2174"/><path d="M313 1232 H2174"/><path d="M313 1195 H2174"/><path d="M313 951 H2174"/><path d="M313 808 H2174"/><path d="M313 706 H2174"/><path d="M313 627 H2174"/><path d="M313 563 H2174"/><path d="M313 509 H2174"/><path d="M313 462 H2174"/><path d="M313 420 H2174"/><path d="M313 383 H2174"/></g>
<g stroke="#f0e6cb" stroke-width="1" fill="none" shape-rendering="crispEdges"><path d="M310.5 160 V1441"/><path d="M310 1440.5 H2174"/><path d="M311 1375.5 h31"/><path d="M311 1321.5 h31"/><path d="M311 1274.5 h31"/><path d="M311 1232.5 h31"/><path d="M311 1195.5 h63"/><path d="M311 951.5 h31"/><path d="M311 808.5 h31"/><path d="M311 706.5 h31"/><path d="M311 627.5 h31"/><path d="M311 563.5 h31"/><path d="M311 509.5 h31"/><path d="M311 462.5 h31"/><path d="M311 420.5 h31"/><path d="M311 383.5 h63"/><path d="M355.5 1440 v-18"/><path d="M399.5 1440 v-35"/><path d="M443.5 1440 v-18"/><path d="M488.5 1440 v-18"/><path d="M532.5 1440 v-18"/><path d="M576.5 1440 v-18"/><path d="M621.5 1440 v-35"/><path d="M665.5 1440 v-18"/><path d="M710.5 1440 v-18"/><path d="M754.5 1440 v-18"/><path d="M798.5 1440 v-18"/><path d="M843.5 1440 v-35"/><path d="M887.5 1440 v-18"/><path d="M931.5 1440 v-18"/><path d="M976.5 1440 v-18"/><path d="M1020.5 1440 v-18"/><path d="M1064.5 1440 v-35"/><path d="M1109.5 1440 v-18"/><path d="M1153.5 1440 v-18"/><path d="M1197.5 1440 v-18"/><path d="M1242.5 1440 v-18"/><path d="M1286.5 1440 v-35"/><path d="M1331.5 1440 v-18"/><path d="M1375.5 1440 v-18"/><path d="M1419.5 1440 v-18"/><path d="M1464.5 1440 v-18"/><path d="M1508.5 1440 v-35"/><path d="M1552.5 1440 v-18"/><path d="M1597.5 1440 v-18"/><path d="M1641.5 1440 v-18"/><path d="M1685.5 1440 v-18"/><path d="M1730.5 1440 v-35"/><path d="M1774.5 1440 v-18"/><path d="M1819.5 1440 v-18"/><path d="M1863.5 1440 v-18"/><path d="M1907.5 1440 v-18"/><path d="M1952.5 1440 v-35"/><path d="M1996.5 1440 v-18"/><path d="M2040.5 1440 v-18"/><path d="M2085.5 1440 v-18"/><path d="M2129.5 1440 v-18"/><path d="M2173.5 1440 v-35"/></g>
<g stroke="#000" stroke-width="1" shape-rendering="crispEdges"><path d="M2241 1372.5 H2303"/><path d="M2241 1243.5 H2303"/><path d="M2241 1115.5 H2303"/><path d="M2241 986.5 H2303"/><path d="M2241 857.5 H2303"/><path d="M2241 729.5 H2303"/><path d="M2241 600.5 H2303"/><path d="M2241 471.5 H2303"/><path d="M2241 343.5 H2303"/><path d="M2241 214.5 H2303"/></g>
<text transform="translate(949.00 80.00) scale(1.0000 1.0589)" font-size="75.50">ξ</text>
<text transform="translate(987.01 80.00) scale(0.8093 1.0589)" font-size="75.50">(</text>
<text transform="translate(1009.00 80.00) scale(1.0000 1.0589)" font-size="75.50">δ</text>
<text transform="translate(1068.04 80.00) scale(1.0139 1.0589)" font-size="75.50">t,</text>
<text transform="translate(1132.21 80.00) scale(1.0229 1.0589)" font-size="75.50">f),</text>
<text transform="translate(1220.50 80.00) scale(1.0000 1.0589)" font-size="75.50">Q</text>
<text transform="translate(1302.05 80.00) scale(1.0441 1.0589)" font-size="75.50">=</text>
<text transform="translate(1368.19 80.00) scale(0.9780 1.0589)" font-size="75.50">38.0731</text>
<text transform="translate(319.17 1492.00) scale(1.0049 1.0398)" font-size="52.00">29.145</text>
<text transform="translate(555.50 1492.00) scale(1.0049 1.0398)" font-size="52.00">29.15</text>
<text transform="translate(762.77 1492.00) scale(1.0049 1.0398)" font-size="52.00">29.155</text>
<text transform="translate(999.15 1492.00) scale(1.0049 1.0398)" font-size="52.00">29.16</text>
<text transform="translate(1206.37 1492.00) scale(1.0049 1.0398)" font-size="52.00">29.165</text>
<text transform="translate(1442.92 1492.00) scale(1.0049 1.0398)" font-size="52.00">29.17</text>
<text transform="translate(1649.97 1492.00) scale(1.0049 1.0398)" font-size="52.00">29.175</text>
<text transform="translate(1886.34 1492.00) scale(1.0049 1.0398)" font-size="52.00">29.18</text>
<text transform="translate(2093.57 1492.00) scale(1.0049 1.0398)" font-size="52.00">29.185</text>
<text transform="translate(1554.73 1542.60) scale(1.0040 1.0450)" font-size="52.00">Time delay: t(L1) - t(H1) [s]</text>
<text transform="translate(233.04 1393.44) scale(1.0081 1.0398)" font-size="52.00">60</text>
<text transform="translate(233.01 1339.08) scale(1.0086 1.0398)" font-size="52.00">70</text>
<text transform="translate(217.16 1218.00) scale(0.9701 1.0398)" font-size="52.00">10</text>
<text transform="translate(271.21 1195.70) scale(1.0583 1.0382)" font-size="33.60">2</text>
<text transform="translate(160.47 973.56) scale(1.0049 1.0398)" font-size="52.00">2</text>
<text transform="translate(187.00 973.56) scale(1.0049 1.0398)" font-size="52.00">×</text>
<text transform="translate(217.16 973.56) scale(0.9701 1.0398)" font-size="52.00">10</text>
<text transform="translate(271.21 951.26) scale(1.0583 1.0382)" font-size="33.60">2</text>
<text transform="translate(161.11 830.58) scale(1.0049 1.0398)" font-size="52.00">3</text>
<text transform="translate(187.00 830.58) scale(1.0049 1.0398)" font-size="52.00">×</text>
<text transform="translate(217.16 830.58) scale(0.9701 1.0398)" font-size="52.00">10</text>
<text transform="translate(271.21 808.28) scale(1.0583 1.0382)" font-size="33.60">2</text>
<text transform="translate(161.90 729.13) scale(1.0049 1.0398)" font-size="52.00">4</text>
<text transform="translate(187.00 729.13) scale(1.0049 1.0398)" font-size="52.00">×</text>
<text transform="translate(217.16 729.13) scale(0.9701 1.0398)" font-size="52.00">10</text>
<text transform="translate(271.21 706.83) scale(1.0583 1.0382)" font-size="33.60">2</text>
<text transform="translate(161.01 650.44) scale(1.0049 1.0398)" font-size="52.00">5</text>
<text transform="translate(187.00 650.44) scale(1.0049 1.0398)" font-size="52.00">×</text>
<text transform="translate(217.16 650.44) scale(0.9701 1.0398)" font-size="52.00">10</text>
<text transform="translate(271.21 628.14) scale(1.0583 1.0382)" font-size="33.60">2</text>
<text transform="translate(160.45 586.14) scale(1.0049 1.0398)" font-size="52.00">6</text>
<text transform="translate(187.00 586.14) scale(1.0049 1.0398)" font-size="52.00">×</text>
<text transform="translate(217.16 586.14) scale(0.9701 1.0398)" font-size="52.00">10</text>
<text transform="translate(271.21 563.84) scale(1.0583 1.0382)" font-size="33.60">2</text>
<text transform="translate(217.16 406.00) scale(0.9701 1.0398)" font-size="52.00">10</text>
<text transform="translate(271.70 383.70) scale(1.0169 1.0382)" font-size="33.60">3</text>
<text transform="translate(158.20 509.07) rotate(-90) scale(1.0012 1.0400)" font-size="52.00">Frequency [Hz]</text>
<text transform="translate(2315.86 1390.60) scale(1.0049 1.0398)" font-size="52.00">0</text>
<text transform="translate(2315.86 1261.95) scale(1.0049 1.0398)" font-size="52.00">0.1</text>
<text transform="translate(2315.86 1133.30) scale(1.0049 1.0398)" font-size="52.00">0.2</text>
<text transform="translate(2315.86 1004.65) scale(1.0049 1.0398)" font-size="52.00">0.3</text>
<text transform="translate(2315.86 876.00) scale(1.0049 1.0398)" font-size="52.00">0.4</text>
<text transform="translate(2315.86 747.35) scale(1.0049 1.0398)" font-size="52.00">0.5</text>
<text transform="translate(2315.86 618.70) scale(1.0049 1.0398)" font-size="52.00">0.6</text>
<text transform="translate(2315.86 490.05) scale(1.0049 1.0398)" font-size="52.00">0.7</text>
<text transform="translate(2315.86 361.40) scale(1.0049 1.0398)" font-size="52.00">0.8</text>
<text transform="translate(2315.86 232.75) scale(1.0049 1.0398)" font-size="52.00">0.9</text>
<text transform="translate(2463.30 596.54) rotate(-90) scale(0.9998 1.0350)" font-size="52.00">Cross-correlation</text>
<text transform="translate(2463.30 184.50) rotate(-90) scale(0.9998 1.0350)" font-size="52.00">ξ</text>
</svg>
</body></html>
